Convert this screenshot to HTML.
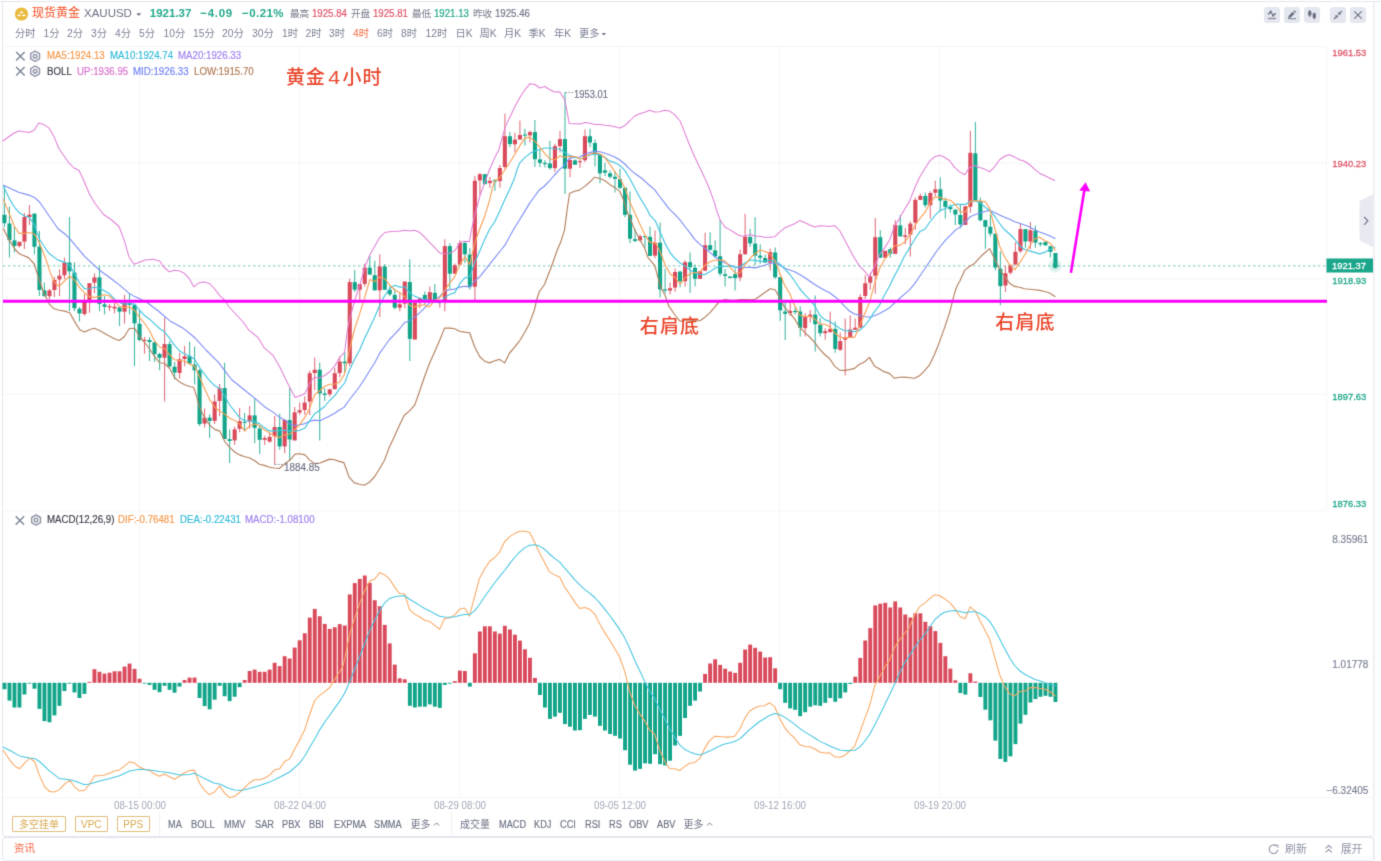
<!DOCTYPE html>
<html lang="zh-CN">
<head>
<meta charset="utf-8">
<title>现货黄金 XAUUSD</title>
<style>
*{box-sizing:border-box;margin:0;padding:0}
html,body{width:1381px;height:861px;overflow:hidden;background:#fff}
body{font-family:"Liberation Sans","Noto Sans CJK SC",sans-serif;color:#7b8194;position:relative}
#w{position:absolute;left:0;top:0;width:1381px;height:861px;overflow:hidden;background:#fff;filter:url(#bl)}
.t{position:absolute;white-space:nowrap;line-height:14px;height:14px}
.box{position:absolute;border:1px solid #e3e5ee;border-radius:4px;background:#fff}
#main{left:2px;top:1px;width:1372px;height:835.5px;border-radius:0 0 4px 4px;border-top:none;border-right-color:#eceef3}
#topl{position:absolute;left:0;top:1px;width:1381px;height:1px;background:#e3e5ee}
#foot{left:2px;top:836.5px;width:1372px;height:24px;border-bottom-color:#eceef3}
#side{position:absolute;left:1374px;top:2px;width:12px;height:859px;border-left:1px solid #f1f2f6}
svg{position:absolute;left:0;top:0}
.r1{top:6.5px;font-size:9.6px;color:#737889}
.r1.n{font-size:10px;transform:scaleX(.965);transform-origin:0 50%;-webkit-text-stroke:.2px}
.r2{top:26.7px;font-size:10.3px;color:#7b8194}
.lg{font-size:10px;transform:scaleX(.97);transform-origin:0 50%;-webkit-text-stroke:.18px}
.ax{font-size:9.4px;right:14.8px;text-align:right;-webkit-text-stroke:.3px}
.bt{top:818px;font-size:10px;color:#6f7486;transform:scaleX(.92);transform-origin:0 50%;-webkit-text-stroke:.2px}
.bt.cj{font-size:10px;transform:none;-webkit-text-stroke:0}
.tm{top:799.2px;font-size:10px;transform:scaleX(.975);color:#a3a7b8;width:80px;text-align:center}
.gb{position:absolute;top:816px;height:16px;border:1px solid #e2bd7c;border-radius:1px;color:#d8a850;font-size:10px;line-height:15px;text-align:center;white-space:nowrap}
.ib{position:absolute;top:7.4px;width:16px;height:16px;border-radius:3px;background:#e4e7ef}
.ax.m{font-size:10px;right:12.6px;-webkit-text-stroke:.15px;color:#7b8194}
.hl{font-size:10px;color:#6b7083;transform:scaleX(.94);transform-origin:0 50%;-webkit-text-stroke:.15px}
.red{color:#e0566b}.grn{color:#22a88b}
.ann{position:absolute;white-space:nowrap;color:#e9452a;font-weight:500;font-size:19px;line-height:22px;height:22px;font-family:"Liberation Sans","Noto Sans CJK SC",sans-serif}
</style>
</head>
<body>
<svg width="0" height="0" style="position:absolute;left:0;top:0"><defs><filter id="bl" x="0" y="0" width="100%" height="100%" color-interpolation-filters="sRGB"><feConvolveMatrix order="3" kernelMatrix="1 6 1 6 36 6 1 6 1" divisor="64" edgeMode="duplicate" preserveAlpha="true"/></filter></defs></svg>
<div id="w">
<div class="box" id="main"></div>
<div id="topl"></div>
<div class="box" id="foot"></div>
<div id="side"></div>
<svg width="1381" height="861" viewBox="0 0 1381 861">
<line x1="139.5" y1="47" x2="139.5" y2="797.5" stroke="#f4f5f8" stroke-width="1"/>
<line x1="299.5" y1="47" x2="299.5" y2="797.5" stroke="#f4f5f8" stroke-width="1"/>
<line x1="459.5" y1="47" x2="459.5" y2="797.5" stroke="#f4f5f8" stroke-width="1"/>
<line x1="619.5" y1="47" x2="619.5" y2="797.5" stroke="#f4f5f8" stroke-width="1"/>
<line x1="779.5" y1="47" x2="779.5" y2="797.5" stroke="#f4f5f8" stroke-width="1"/>
<line x1="939.5" y1="47" x2="939.5" y2="797.5" stroke="#f4f5f8" stroke-width="1"/>
<line x1="3" y1="46.5" x2="1327" y2="46.5" stroke="#f4f5f8" stroke-width="1"/>
<line x1="3" y1="163" x2="1327" y2="163" stroke="#f4f5f8" stroke-width="1"/>
<line x1="3" y1="278.8" x2="1327" y2="278.8" stroke="#f4f5f8" stroke-width="1"/>
<line x1="3" y1="394.4" x2="1327" y2="394.4" stroke="#f4f5f8" stroke-width="1"/>
<line x1="3" y1="511" x2="1327" y2="511" stroke="#f4f5f8" stroke-width="1"/>
<line x1="3" y1="797.5" x2="1327" y2="797.5" stroke="#f4f5f8" stroke-width="1"/>
<line x1="1326.5" y1="46.5" x2="1326.5" y2="510.5" stroke="#f4f5f8" stroke-width="1"/>
<line x1="3" y1="797.5" x2="1373" y2="797.5" stroke="#f4f5f8" stroke-width="1"/>
<line x1="3" y1="265.8" x2="1327" y2="265.8" stroke="#8fd3c3" stroke-width="1.2" stroke-dasharray="2.4 2.6"/>
<g stroke="#12a58a" fill="#12a58a"><path d="M4.4 186.4V227.6" stroke-width="1.1" fill="none" opacity=".78"/><rect x="2.4" y="214.8" width="4.1" height="8.4" stroke="none"/><path d="M9.4 206.5V257.6" stroke-width="1.1" fill="none" opacity=".78"/><rect x="7.4" y="223.5" width="4.1" height="16.7" stroke="none"/><path d="M14.4 226.5V252.6" stroke-width="1.1" fill="none" opacity=".78"/><rect x="12.4" y="240.4" width="4.1" height="5.6" stroke="none"/><path d="M34.4 213V254.3" stroke-width="1.1" fill="none" opacity=".78"/><rect x="32.4" y="213.7" width="4.1" height="33.1" stroke="none"/><path d="M39.4 231V296" stroke-width="1.1" fill="none" opacity=".78"/><rect x="37.4" y="246.8" width="4.1" height="43.2" stroke="none"/><path d="M44.4 282.6V296.2" stroke-width="1.1" fill="none" opacity=".78"/><rect x="42.4" y="290.4" width="4.1" height="5.8" stroke="none"/><path d="M69.5 217V311.1" stroke-width="1.1" fill="none" opacity=".78"/><rect x="67.4" y="262.5" width="4.1" height="8.9" stroke="none"/><path d="M74.5 262.3V311.1" stroke-width="1.1" fill="none" opacity=".78"/><rect x="72.4" y="272.5" width="4.1" height="35.7" stroke="none"/><path d="M79.5 307V321.6" stroke-width="1.1" fill="none" opacity=".78"/><rect x="77.4" y="308.8" width="4.1" height="4.6" stroke="none"/><path d="M99.5 266.4V311.1" stroke-width="1.1" fill="none" opacity=".78"/><rect x="97.4" y="277.4" width="4.1" height="26.5" stroke="none"/><path d="M104.5 296V314.4" stroke-width="1.1" fill="none" opacity=".78"/><rect x="102.5" y="304.4" width="4.1" height="2.3" stroke="none"/><path d="M119.5 306.5V326" stroke-width="1.1" fill="none" opacity=".78"/><rect x="117.5" y="307.6" width="4.1" height="4.1" stroke="none"/><path d="M129.5 293V314.4" stroke-width="1.1" fill="none" opacity=".78"/><rect x="127.5" y="303" width="4.1" height="2" stroke="none"/><path d="M134.5 304V366.2" stroke-width="1.1" fill="none" opacity=".78"/><rect x="132.5" y="305.2" width="4.1" height="18.2" stroke="none"/><path d="M139.5 310.3V341.2" stroke-width="1.1" fill="none" opacity=".78"/><rect x="137.5" y="323.8" width="4.1" height="16.2" stroke="none"/><path d="M149.5 337.2V361" stroke-width="1.1" fill="none" opacity=".78"/><rect x="147.5" y="340" width="4.1" height="2" stroke="none"/><path d="M154.6 341.8V362.1" stroke-width="1.1" fill="none" opacity=".78"/><rect x="152.5" y="342.4" width="4.1" height="11.6" stroke="none"/><path d="M159.6 352.8V370.3" stroke-width="1.1" fill="none" opacity=".78"/><rect x="157.5" y="354" width="4.1" height="3.8" stroke="none"/><path d="M169.6 341.2V367.4" stroke-width="1.1" fill="none" opacity=".78"/><rect x="167.5" y="344.1" width="4.1" height="22.3" stroke="none"/><path d="M174.6 362.1V379.6" stroke-width="1.1" fill="none" opacity=".78"/><rect x="172.5" y="366.8" width="4.1" height="5.8" stroke="none"/><path d="M189.6 341.8V364.5" stroke-width="1.1" fill="none" opacity=".78"/><rect x="187.5" y="356.3" width="4.1" height="7.3" stroke="none"/><path d="M194.6 346.5V384.4" stroke-width="1.1" fill="none" opacity=".78"/><rect x="192.5" y="364.5" width="4.1" height="5.8" stroke="none"/><path d="M199.6 369V425.9" stroke-width="1.1" fill="none" opacity=".78"/><rect x="197.5" y="370.3" width="4.1" height="53.8" stroke="none"/><path d="M209.6 414.3V438.1" stroke-width="1.1" fill="none" opacity=".78"/><rect x="207.6" y="417.7" width="4.1" height="3.2" stroke="none"/><path d="M224.6 362.7V439" stroke-width="1.1" fill="none" opacity=".78"/><rect x="222.6" y="388.1" width="4.1" height="50.9" stroke="none"/><path d="M229.6 429.4V463" stroke-width="1.1" fill="none" opacity=".78"/><rect x="227.6" y="439.2" width="4.1" height="1.8" stroke="none"/><path d="M244.6 413.1V431.1" stroke-width="1.1" fill="none" opacity=".78"/><rect x="242.6" y="421.8" width="4.1" height="1" stroke="none"/><path d="M254.7 398.6V443.3" stroke-width="1.1" fill="none" opacity=".78"/><rect x="252.6" y="415.4" width="4.1" height="12.5" stroke="none"/><path d="M259.7 425.9V454.1" stroke-width="1.1" fill="none" opacity=".78"/><rect x="257.6" y="428.5" width="4.1" height="11.3" stroke="none"/><path d="M279.7 413.7V449.7" stroke-width="1.1" fill="none" opacity=".78"/><rect x="277.6" y="427" width="4.1" height="19.4" stroke="none"/><path d="M289.7 388.1V460.1" stroke-width="1.1" fill="none" opacity=".78"/><rect x="287.6" y="420.1" width="4.1" height="19.4" stroke="none"/><path d="M319.7 362.7V440.5" stroke-width="1.1" fill="none" opacity=".78"/><rect x="317.7" y="369.7" width="4.1" height="23.8" stroke="none"/><path d="M324.7 388.3V401" stroke-width="1.1" fill="none" opacity=".78"/><rect x="322.7" y="393.5" width="4.1" height="1.4" stroke="none"/><path d="M344.7 352.3V372.6" stroke-width="1.1" fill="none" opacity=".78"/><rect x="342.7" y="361.6" width="4.1" height="1.7" stroke="none"/><path d="M354.7 270V292" stroke-width="1.1" fill="none" opacity=".78"/><rect x="352.7" y="282.1" width="4.1" height="7.6" stroke="none"/><path d="M369.8 256V274.6" stroke-width="1.1" fill="none" opacity=".78"/><rect x="367.7" y="267.6" width="4.1" height="7" stroke="none"/><path d="M374.8 260.7V290.8" stroke-width="1.1" fill="none" opacity=".78"/><rect x="372.7" y="275.2" width="4.1" height="15.1" stroke="none"/><path d="M384.8 264.1V290.3" stroke-width="1.1" fill="none" opacity=".78"/><rect x="382.7" y="266.5" width="4.1" height="23.2" stroke="none"/><path d="M389.8 286.2V296.1" stroke-width="1.1" fill="none" opacity=".78"/><rect x="387.7" y="289.7" width="4.1" height="4.6" stroke="none"/><path d="M394.8 288.5V309.4" stroke-width="1.1" fill="none" opacity=".78"/><rect x="392.7" y="294.9" width="4.1" height="12.8" stroke="none"/><path d="M409.8 259.3V361" stroke-width="1.1" fill="none" opacity=".78"/><rect x="407.8" y="282.1" width="4.1" height="56.8" stroke="none"/><path d="M424.8 291.4V304.8" stroke-width="1.1" fill="none" opacity=".78"/><rect x="422.8" y="294.9" width="4.1" height="5.1" stroke="none"/><path d="M434.8 283.9V300" stroke-width="1.1" fill="none" opacity=".78"/><rect x="432.8" y="292.9" width="4.1" height="7.1" stroke="none"/><path d="M449.8 243.2V289.1" stroke-width="1.1" fill="none" opacity=".78"/><rect x="447.8" y="246.1" width="4.1" height="27.6" stroke="none"/><path d="M464.9 241.5V263" stroke-width="1.1" fill="none" opacity=".78"/><rect x="462.8" y="243" width="4.1" height="11.3" stroke="none"/><path d="M469.9 247.9V289.7" stroke-width="1.1" fill="none" opacity=".78"/><rect x="467.8" y="254.6" width="4.1" height="32.2" stroke="none"/><path d="M484.9 174.2V184.8" stroke-width="1.1" fill="none" opacity=".78"/><rect x="482.8" y="174.2" width="4.1" height="9.7" stroke="none"/><path d="M494.9 179V190.7" stroke-width="1.1" fill="none" opacity=".78"/><rect x="492.8" y="180.4" width="4.1" height="1.2" stroke="none"/><path d="M509.9 132.1V147.2" stroke-width="1.1" fill="none" opacity=".78"/><rect x="507.9" y="136.2" width="4.1" height="7.9" stroke="none"/><path d="M524.9 128.7V145.5" stroke-width="1.1" fill="none" opacity=".78"/><rect x="522.9" y="134.5" width="4.1" height="1.1" stroke="none"/><path d="M534.9 120V167" stroke-width="1.1" fill="none" opacity=".78"/><rect x="532.9" y="132.1" width="4.1" height="27.1" stroke="none"/><path d="M539.9 150.1V167" stroke-width="1.1" fill="none" opacity=".78"/><rect x="537.9" y="159.4" width="4.1" height="3.5" stroke="none"/><path d="M544.9 160V167.6" stroke-width="1.1" fill="none" opacity=".78"/><rect x="542.9" y="162.9" width="4.1" height="1.2" stroke="none"/><path d="M549.9 140.8V169.8" stroke-width="1.1" fill="none" opacity=".78"/><rect x="547.9" y="163.5" width="4.1" height="4.6" stroke="none"/><path d="M565 92.1V193.9" stroke-width="1.1" fill="none" opacity=".78"/><rect x="562.9" y="139.1" width="4.1" height="29.6" stroke="none"/><path d="M575 159.4V164.7" stroke-width="1.1" fill="none" opacity=".78"/><rect x="572.9" y="160.4" width="4.1" height="4.3" stroke="none"/><path d="M590 128.7V147.2" stroke-width="1.1" fill="none" opacity=".78"/><rect x="587.9" y="136.2" width="4.1" height="6.4" stroke="none"/><path d="M595 139.6V166.3" stroke-width="1.1" fill="none" opacity=".78"/><rect x="592.9" y="143" width="4.1" height="11.2" stroke="none"/><path d="M600 154.2V183.2" stroke-width="1.1" fill="none" opacity=".78"/><rect x="597.9" y="154.5" width="4.1" height="18.8" stroke="none"/><path d="M605 162.8V176.2" stroke-width="1.1" fill="none" opacity=".78"/><rect x="603" y="170.4" width="4.1" height="2.3" stroke="none"/><path d="M610 170.4V178.5" stroke-width="1.1" fill="none" opacity=".78"/><rect x="608" y="173.3" width="4.1" height="3.5" stroke="none"/><path d="M615 171V192.5" stroke-width="1.1" fill="none" opacity=".78"/><rect x="613" y="176.8" width="4.1" height="2" stroke="none"/><path d="M620 168.7V189" stroke-width="1.1" fill="none" opacity=".78"/><rect x="618" y="179.1" width="4.1" height="8.7" stroke="none"/><path d="M625 187.7V217.2" stroke-width="1.1" fill="none" opacity=".78"/><rect x="623" y="187.7" width="4.1" height="27.1" stroke="none"/><path d="M630 191.6V243.3" stroke-width="1.1" fill="none" opacity=".78"/><rect x="628" y="214.8" width="4.1" height="23.9" stroke="none"/><path d="M635 228.8V242.1" stroke-width="1.1" fill="none" opacity=".78"/><rect x="633" y="239.2" width="4.1" height="1.8" stroke="none"/><path d="M645 235.7V247.4" stroke-width="1.1" fill="none" opacity=".78"/><rect x="643" y="236" width="4.1" height="1" stroke="none"/><path d="M650 226.5V256.1" stroke-width="1.1" fill="none" opacity=".78"/><rect x="648" y="236.9" width="4.1" height="19" stroke="none"/><path d="M660.1 222.4V297.5" stroke-width="1.1" fill="none" opacity=".78"/><rect x="658" y="242.7" width="4.1" height="46.7" stroke="none"/><path d="M665.1 268.6V293.4" stroke-width="1.1" fill="none" opacity=".78"/><rect x="663" y="289.4" width="4.1" height="1.1" stroke="none"/><path d="M680.1 270.8V287.6" stroke-width="1.1" fill="none" opacity=".78"/><rect x="678" y="271.6" width="4.1" height="9.6" stroke="none"/><path d="M690.1 252.5V292.8" stroke-width="1.1" fill="none" opacity=".78"/><rect x="688" y="262.2" width="4.1" height="5" stroke="none"/><path d="M695.1 264.4V286.5" stroke-width="1.1" fill="none" opacity=".78"/><rect x="693" y="267.8" width="4.1" height="11" stroke="none"/><path d="M710.1 232.3V250.8" stroke-width="1.1" fill="none" opacity=".78"/><rect x="708.1" y="245.2" width="4.1" height="4.6" stroke="none"/><path d="M715.1 240.4V258" stroke-width="1.1" fill="none" opacity=".78"/><rect x="713.1" y="250.4" width="4.1" height="5.8" stroke="none"/><path d="M720.1 220.1V276.2" stroke-width="1.1" fill="none" opacity=".78"/><rect x="718.1" y="256.2" width="4.1" height="17.4" stroke="none"/><path d="M725.1 268.9V286.5" stroke-width="1.1" fill="none" opacity=".78"/><rect x="723.1" y="274.2" width="4.1" height="1.7" stroke="none"/><path d="M730.1 276.5V278.1" stroke-width="1.1" fill="none" opacity=".78"/><rect x="728.1" y="276.5" width="4.1" height="1.6" stroke="none"/><path d="M735.1 268.4V290.5" stroke-width="1.1" fill="none" opacity=".78"/><rect x="733.1" y="274.2" width="4.1" height="3.9" stroke="none"/><path d="M750.1 228.8V246.8" stroke-width="1.1" fill="none" opacity=".78"/><rect x="748.1" y="236.9" width="4.1" height="6.5" stroke="none"/><path d="M755.1 217.2V265" stroke-width="1.1" fill="none" opacity=".78"/><rect x="753.1" y="243.6" width="4.1" height="12" stroke="none"/><path d="M760.2 244.3V263.8" stroke-width="1.1" fill="none" opacity=".78"/><rect x="758.1" y="255.6" width="4.1" height="2.1" stroke="none"/><path d="M765.2 254.5V262.6" stroke-width="1.1" fill="none" opacity=".78"/><rect x="763.1" y="258" width="4.1" height="4.6" stroke="none"/><path d="M775.2 247.5V278.9" stroke-width="1.1" fill="none" opacity=".78"/><rect x="773.1" y="252.5" width="4.1" height="24.7" stroke="none"/><path d="M780.2 277V320.7" stroke-width="1.1" fill="none" opacity=".78"/><rect x="778.1" y="277.2" width="4.1" height="33.1" stroke="none"/><path d="M785.2 302.8V339.9" stroke-width="1.1" fill="none" opacity=".78"/><rect x="783.1" y="311.5" width="4.1" height="2.3" stroke="none"/><path d="M795.2 306.8V314.4" stroke-width="1.1" fill="none" opacity=".78"/><rect x="793.1" y="310.9" width="4.1" height="1.2" stroke="none"/><path d="M800.2 306.3V336.5" stroke-width="1.1" fill="none" opacity=".78"/><rect x="798.1" y="311.5" width="4.1" height="16.2" stroke="none"/><path d="M815.2 295.6V351.6" stroke-width="1.1" fill="none" opacity=".78"/><rect x="813.2" y="314.6" width="4.1" height="9.7" stroke="none"/><path d="M820.2 317.9V336.5" stroke-width="1.1" fill="none" opacity=".78"/><rect x="818.2" y="324.8" width="4.1" height="8.4" stroke="none"/><path d="M835.2 321.4V352.7" stroke-width="1.1" fill="none" opacity=".78"/><rect x="833.2" y="328.9" width="4.1" height="20.1" stroke="none"/><path d="M880.3 229.9V257.7" stroke-width="1.1" fill="none" opacity=".78"/><rect x="878.2" y="237.2" width="4.1" height="20.5" stroke="none"/><path d="M890.3 247.6V257.7" stroke-width="1.1" fill="none" opacity=".78"/><rect x="888.2" y="249.3" width="4.1" height="4.4" stroke="none"/><path d="M900.3 215V236.5" stroke-width="1.1" fill="none" opacity=".78"/><rect x="898.2" y="225.4" width="4.1" height="11" stroke="none"/><path d="M925.3 192.4V207.5" stroke-width="1.1" fill="none" opacity=".78"/><rect x="923.3" y="195.9" width="4.1" height="9.3" stroke="none"/><path d="M940.3 177.3V211.6" stroke-width="1.1" fill="none" opacity=".78"/><rect x="938.3" y="189.3" width="4.1" height="11.2" stroke="none"/><path d="M945.3 197.6V218.5" stroke-width="1.1" fill="none" opacity=".78"/><rect x="943.3" y="200.9" width="4.1" height="6" stroke="none"/><path d="M950.3 204.6V212.7" stroke-width="1.1" fill="none" opacity=".78"/><rect x="948.3" y="206.9" width="4.1" height="2.3" stroke="none"/><path d="M955.3 208.7V224.9" stroke-width="1.1" fill="none" opacity=".78"/><rect x="953.3" y="209.8" width="4.1" height="4.7" stroke="none"/><path d="M960.4 204.6V228.4" stroke-width="1.1" fill="none" opacity=".78"/><rect x="958.3" y="215" width="4.1" height="9.4" stroke="none"/><path d="M975.4 122.1V200.5" stroke-width="1.1" fill="none" opacity=".78"/><rect x="973.3" y="153.3" width="4.1" height="47.2" stroke="none"/><path d="M980.4 197.6V221.5" stroke-width="1.1" fill="none" opacity=".78"/><rect x="978.3" y="201.1" width="4.1" height="19.1" stroke="none"/><path d="M985.4 219.7V248.8" stroke-width="1.1" fill="none" opacity=".78"/><rect x="983.3" y="220.2" width="4.1" height="6.6" stroke="none"/><path d="M990.4 214.8V236.6" stroke-width="1.1" fill="none" opacity=".78"/><rect x="988.3" y="226.8" width="4.1" height="6.9" stroke="none"/><path d="M995.4 233.7V270.4" stroke-width="1.1" fill="none" opacity=".78"/><rect x="993.3" y="233.7" width="4.1" height="33.8" stroke="none"/><path d="M1000.4 251.2V305.2" stroke-width="1.1" fill="none" opacity=".78"/><rect x="998.3" y="268.7" width="4.1" height="17.4" stroke="none"/><path d="M1025.4 229.1V247.7" stroke-width="1.1" fill="none" opacity=".78"/><rect x="1023.4" y="229.1" width="4.1" height="12.4" stroke="none"/><path d="M1035.4 225.6V247.8" stroke-width="1.1" fill="none" opacity=".78"/><rect x="1033.4" y="230.7" width="4.1" height="11.9" stroke="none"/><path d="M1040.4 241.9V246.6" stroke-width="1.1" fill="none" opacity=".78"/><rect x="1038.4" y="243.1" width="4.1" height="1.2" stroke="none"/><path d="M1045.4 241.9V245.4" stroke-width="1.1" fill="none" opacity=".78"/><rect x="1043.4" y="241.9" width="4.1" height="3.5" stroke="none"/><path d="M1050.4 246.2V257.6" stroke-width="1.1" fill="none" opacity=".78"/><rect x="1048.4" y="246.2" width="4.1" height="5.6" stroke="none"/><path d="M1055.5 253V266.5" stroke-width="1.1" fill="none" opacity=".78"/><rect x="1053.4" y="253" width="4.1" height="13.5" stroke="none"/></g>
<g stroke="#d94b5c" fill="#d94b5c"><path d="M19.4 241.8V247.4" stroke-width="1.1" fill="none" opacity=".78"/><rect x="17.4" y="241.8" width="4.1" height="4.2" stroke="none"/><path d="M24.4 213V249" stroke-width="1.1" fill="none" opacity=".78"/><rect x="22.4" y="217" width="4.1" height="24.6" stroke="none"/><path d="M29.4 205V225" stroke-width="1.1" fill="none" opacity=".78"/><rect x="27.4" y="214.6" width="4.1" height="2.4" stroke="none"/><path d="M49.4 289V300" stroke-width="1.1" fill="none" opacity=".78"/><rect x="47.4" y="290.4" width="4.1" height="5.8" stroke="none"/><path d="M54.4 276.8V297" stroke-width="1.1" fill="none" opacity=".78"/><rect x="52.4" y="280" width="4.1" height="10" stroke="none"/><path d="M59.5 269.3V296.2" stroke-width="1.1" fill="none" opacity=".78"/><rect x="57.4" y="275.7" width="4.1" height="3.8" stroke="none"/><path d="M64.5 257.6V279.2" stroke-width="1.1" fill="none" opacity=".78"/><rect x="62.4" y="262.5" width="4.1" height="12.8" stroke="none"/><path d="M84.5 293.7V315.7" stroke-width="1.1" fill="none" opacity=".78"/><rect x="82.4" y="300.6" width="4.1" height="13.4" stroke="none"/><path d="M89.5 283.2V312.8" stroke-width="1.1" fill="none" opacity=".78"/><rect x="87.4" y="283.2" width="4.1" height="16.8" stroke="none"/><path d="M94.5 273.4V293.1" stroke-width="1.1" fill="none" opacity=".78"/><rect x="92.4" y="277.4" width="4.1" height="5.2" stroke="none"/><path d="M109.5 304V311" stroke-width="1.1" fill="none" opacity=".78"/><rect x="107.5" y="306.2" width="4.1" height="1.2" stroke="none"/><path d="M114.5 303V313.4" stroke-width="1.1" fill="none" opacity=".78"/><rect x="112.5" y="306.7" width="4.1" height="1.8" stroke="none"/><path d="M124.5 294.8V323.6" stroke-width="1.1" fill="none" opacity=".78"/><rect x="122.5" y="302.7" width="4.1" height="9" stroke="none"/><path d="M144.5 337V353.7" stroke-width="1.1" fill="none" opacity=".78"/><rect x="142.5" y="339.8" width="4.1" height="1.1" stroke="none"/><path d="M164.6 317.4V401.5" stroke-width="1.1" fill="none" opacity=".78"/><rect x="162.5" y="344.1" width="4.1" height="13.6" stroke="none"/><path d="M179.6 352.8V378.4" stroke-width="1.1" fill="none" opacity=".78"/><rect x="177.5" y="359.2" width="4.1" height="13.7" stroke="none"/><path d="M184.6 345.9V366.2" stroke-width="1.1" fill="none" opacity=".78"/><rect x="182.5" y="356.3" width="4.1" height="2.7" stroke="none"/><path d="M204.6 408.5V427.6" stroke-width="1.1" fill="none" opacity=".78"/><rect x="202.5" y="417.7" width="4.1" height="5.9" stroke="none"/><path d="M214.6 394.5V424.1" stroke-width="1.1" fill="none" opacity=".78"/><rect x="212.6" y="401.5" width="4.1" height="19.4" stroke="none"/><path d="M219.6 384.1V416" stroke-width="1.1" fill="none" opacity=".78"/><rect x="217.6" y="388.1" width="4.1" height="12.8" stroke="none"/><path d="M234.6 426.5V445" stroke-width="1.1" fill="none" opacity=".78"/><rect x="232.6" y="429.4" width="4.1" height="11" stroke="none"/><path d="M239.6 407.9V432.3" stroke-width="1.1" fill="none" opacity=".78"/><rect x="237.6" y="421.2" width="4.1" height="7.6" stroke="none"/><path d="M249.6 406.1V428.8" stroke-width="1.1" fill="none" opacity=".78"/><rect x="247.6" y="415.4" width="4.1" height="6.2" stroke="none"/><path d="M264.7 435.7V445" stroke-width="1.1" fill="none" opacity=".78"/><rect x="262.6" y="438.1" width="4.1" height="1.7" stroke="none"/><path d="M269.7 432.8V442.7" stroke-width="1.1" fill="none" opacity=".78"/><rect x="267.6" y="436.9" width="4.1" height="4.7" stroke="none"/><path d="M274.7 416V464.8" stroke-width="1.1" fill="none" opacity=".78"/><rect x="272.6" y="427" width="4.1" height="9.3" stroke="none"/><path d="M284.7 418.9V453.2" stroke-width="1.1" fill="none" opacity=".78"/><rect x="282.6" y="420.1" width="4.1" height="26.3" stroke="none"/><path d="M294.7 407V440.4" stroke-width="1.1" fill="none" opacity=".78"/><rect x="292.6" y="412.3" width="4.1" height="28.1" stroke="none"/><path d="M299.7 402.6V414.8" stroke-width="1.1" fill="none" opacity=".78"/><rect x="297.6" y="410.2" width="4.1" height="2.3" stroke="none"/><path d="M304.7 396.3V414.8" stroke-width="1.1" fill="none" opacity=".78"/><rect x="302.6" y="402.6" width="4.1" height="7.4" stroke="none"/><path d="M309.7 370.8V415" stroke-width="1.1" fill="none" opacity=".78"/><rect x="307.7" y="373.2" width="4.1" height="28.4" stroke="none"/><path d="M314.7 357.5V390" stroke-width="1.1" fill="none" opacity=".78"/><rect x="312.7" y="369.7" width="4.1" height="3.3" stroke="none"/><path d="M329.7 388.9V396.4" stroke-width="1.1" fill="none" opacity=".78"/><rect x="327.7" y="389.4" width="4.1" height="4.8" stroke="none"/><path d="M334.7 368V389.2" stroke-width="1.1" fill="none" opacity=".78"/><rect x="332.7" y="373.2" width="4.1" height="16" stroke="none"/><path d="M339.7 356.3V377.2" stroke-width="1.1" fill="none" opacity=".78"/><rect x="337.7" y="361.6" width="4.1" height="11.4" stroke="none"/><path d="M349.7 278.7V366.2" stroke-width="1.1" fill="none" opacity=".78"/><rect x="347.7" y="282.1" width="4.1" height="81.2" stroke="none"/><path d="M359.8 284.1V300" stroke-width="1.1" fill="none" opacity=".78"/><rect x="357.7" y="284.1" width="4.1" height="5.6" stroke="none"/><path d="M364.8 263.6V286.8" stroke-width="1.1" fill="none" opacity=".78"/><rect x="362.7" y="267.6" width="4.1" height="16.3" stroke="none"/><path d="M379.8 254.3V317" stroke-width="1.1" fill="none" opacity=".78"/><rect x="377.7" y="266.5" width="4.1" height="23.8" stroke="none"/><path d="M399.8 293.2V311.2" stroke-width="1.1" fill="none" opacity=".78"/><rect x="397.7" y="304.2" width="4.1" height="3.5" stroke="none"/><path d="M404.8 281V308.3" stroke-width="1.1" fill="none" opacity=".78"/><rect x="402.7" y="281.6" width="4.1" height="22" stroke="none"/><path d="M414.8 302.5V339.5" stroke-width="1.1" fill="none" opacity=".78"/><rect x="412.8" y="302.5" width="4.1" height="37" stroke="none"/><path d="M419.8 297.8V308.3" stroke-width="1.1" fill="none" opacity=".78"/><rect x="417.8" y="298.4" width="4.1" height="1.6" stroke="none"/><path d="M429.8 286.4V300" stroke-width="1.1" fill="none" opacity=".78"/><rect x="427.8" y="292.2" width="4.1" height="7.8" stroke="none"/><path d="M439.8 300V307.7" stroke-width="1.1" fill="none" opacity=".78"/><rect x="437.8" y="300.5" width="4.1" height="1" stroke="none"/><path d="M444.8 239.2V311.2" stroke-width="1.1" fill="none" opacity=".78"/><rect x="442.8" y="246.1" width="4.1" height="53.9" stroke="none"/><path d="M454.8 263.6V273.7" stroke-width="1.1" fill="none" opacity=".78"/><rect x="452.8" y="265.3" width="4.1" height="8.4" stroke="none"/><path d="M459.9 240.3V264.7" stroke-width="1.1" fill="none" opacity=".78"/><rect x="457.8" y="243" width="4.1" height="21.7" stroke="none"/><path d="M474.9 176.1V300" stroke-width="1.1" fill="none" opacity=".78"/><rect x="472.8" y="180.8" width="4.1" height="106" stroke="none"/><path d="M479.9 173V194.7" stroke-width="1.1" fill="none" opacity=".78"/><rect x="477.8" y="174.2" width="4.1" height="6.2" stroke="none"/><path d="M489.9 176.9V187.7" stroke-width="1.1" fill="none" opacity=".78"/><rect x="487.8" y="180.8" width="4.1" height="2.3" stroke="none"/><path d="M499.9 165.1V187.7" stroke-width="1.1" fill="none" opacity=".78"/><rect x="497.8" y="168" width="4.1" height="13.1" stroke="none"/><path d="M504.9 113.6V168.7" stroke-width="1.1" fill="none" opacity=".78"/><rect x="502.8" y="136.2" width="4.1" height="30.8" stroke="none"/><path d="M514.9 132.7V152.5" stroke-width="1.1" fill="none" opacity=".78"/><rect x="512.9" y="139.7" width="4.1" height="4.6" stroke="none"/><path d="M519.9 120.5V139.5" stroke-width="1.1" fill="none" opacity=".78"/><rect x="517.9" y="135" width="4.1" height="4.5" stroke="none"/><path d="M529.9 130.4V142.6" stroke-width="1.1" fill="none" opacity=".78"/><rect x="527.9" y="132.1" width="4.1" height="3.2" stroke="none"/><path d="M554.9 143.7V172" stroke-width="1.1" fill="none" opacity=".78"/><rect x="552.9" y="146.1" width="4.1" height="22" stroke="none"/><path d="M560 131V152.5" stroke-width="1.1" fill="none" opacity=".78"/><rect x="557.9" y="139.1" width="4.1" height="7" stroke="none"/><path d="M570 157.1V177.3" stroke-width="1.1" fill="none" opacity=".78"/><rect x="567.9" y="160" width="4.1" height="8.7" stroke="none"/><path d="M580 160V168.1" stroke-width="1.1" fill="none" opacity=".78"/><rect x="577.9" y="161.2" width="4.1" height="1.1" stroke="none"/><path d="M585 129.4V162.3" stroke-width="1.1" fill="none" opacity=".78"/><rect x="582.9" y="136.2" width="4.1" height="24" stroke="none"/><path d="M640 234.6V241.6" stroke-width="1.1" fill="none" opacity=".78"/><rect x="638" y="236.3" width="4.1" height="4.1" stroke="none"/><path d="M655 230.5V258.2" stroke-width="1.1" fill="none" opacity=".78"/><rect x="653" y="242.7" width="4.1" height="12.9" stroke="none"/><path d="M670.1 282.4V294.6" stroke-width="1.1" fill="none" opacity=".78"/><rect x="668" y="288.2" width="4.1" height="2.3" stroke="none"/><path d="M675.1 268.6V291.7" stroke-width="1.1" fill="none" opacity=".78"/><rect x="673" y="272" width="4.1" height="15.6" stroke="none"/><path d="M685.1 260.2V286.5" stroke-width="1.1" fill="none" opacity=".78"/><rect x="683" y="262.2" width="4.1" height="19" stroke="none"/><path d="M700.1 271.3V278.8" stroke-width="1.1" fill="none" opacity=".78"/><rect x="698" y="271.3" width="4.1" height="7.5" stroke="none"/><path d="M705.1 232.8V270.7" stroke-width="1.1" fill="none" opacity=".78"/><rect x="703" y="245.2" width="4.1" height="25.5" stroke="none"/><path d="M740.1 249.5V281.2" stroke-width="1.1" fill="none" opacity=".78"/><rect x="738.1" y="254.2" width="4.1" height="23.4" stroke="none"/><path d="M745.1 213.7V255" stroke-width="1.1" fill="none" opacity=".78"/><rect x="743.1" y="236.7" width="4.1" height="17.5" stroke="none"/><path d="M770.2 248.4V270.4" stroke-width="1.1" fill="none" opacity=".78"/><rect x="768.1" y="252.2" width="4.1" height="10.4" stroke="none"/><path d="M790.2 301V316.1" stroke-width="1.1" fill="none" opacity=".78"/><rect x="788.1" y="310.9" width="4.1" height="2.3" stroke="none"/><path d="M805.2 313.2V336.5" stroke-width="1.1" fill="none" opacity=".78"/><rect x="803.1" y="316.7" width="4.1" height="11.4" stroke="none"/><path d="M810.2 309.7V322.5" stroke-width="1.1" fill="none" opacity=".78"/><rect x="808.2" y="314.6" width="4.1" height="1.9" stroke="none"/><path d="M825.2 328.3V339.7" stroke-width="1.1" fill="none" opacity=".78"/><rect x="823.2" y="331.2" width="4.1" height="2" stroke="none"/><path d="M830.2 311.5V333" stroke-width="1.1" fill="none" opacity=".78"/><rect x="828.2" y="328.9" width="4.1" height="3.1" stroke="none"/><path d="M840.2 332.4V351" stroke-width="1.1" fill="none" opacity=".78"/><rect x="838.2" y="341.1" width="4.1" height="8.7" stroke="none"/><path d="M845.2 318.5V375.4" stroke-width="1.1" fill="none" opacity=".78"/><rect x="843.2" y="337.9" width="4.1" height="1.8" stroke="none"/><path d="M850.2 315.6V337" stroke-width="1.1" fill="none" opacity=".78"/><rect x="848.2" y="329.5" width="4.1" height="7.5" stroke="none"/><path d="M855.2 318.5V329.7" stroke-width="1.1" fill="none" opacity=".78"/><rect x="853.2" y="327.7" width="4.1" height="2" stroke="none"/><path d="M860.3 294V327.7" stroke-width="1.1" fill="none" opacity=".78"/><rect x="858.2" y="297" width="4.1" height="30.7" stroke="none"/><path d="M865.3 275.2V299" stroke-width="1.1" fill="none" opacity=".78"/><rect x="863.2" y="283.3" width="4.1" height="12.7" stroke="none"/><path d="M870.3 272.8V289.7" stroke-width="1.1" fill="none" opacity=".78"/><rect x="868.2" y="276.3" width="4.1" height="6.4" stroke="none"/><path d="M875.3 218V293.8" stroke-width="1.1" fill="none" opacity=".78"/><rect x="873.2" y="237.2" width="4.1" height="38.5" stroke="none"/><path d="M885.3 250.8V257.7" stroke-width="1.1" fill="none" opacity=".78"/><rect x="883.2" y="250.8" width="4.1" height="6.9" stroke="none"/><path d="M895.3 220.3V253.9" stroke-width="1.1" fill="none" opacity=".78"/><rect x="893.2" y="224.8" width="4.1" height="29.1" stroke="none"/><path d="M905.3 227.9V244.2" stroke-width="1.1" fill="none" opacity=".78"/><rect x="903.2" y="235.3" width="4.1" height="1.5" stroke="none"/><path d="M910.3 221.4V256.6" stroke-width="1.1" fill="none" opacity=".78"/><rect x="908.3" y="223.6" width="4.1" height="11" stroke="none"/><path d="M915.3 197.6V230" stroke-width="1.1" fill="none" opacity=".78"/><rect x="913.3" y="199.9" width="4.1" height="22.7" stroke="none"/><path d="M920.3 193.6V199.9" stroke-width="1.1" fill="none" opacity=".78"/><rect x="918.3" y="195.9" width="4.1" height="4" stroke="none"/><path d="M930.3 191.2V218.5" stroke-width="1.1" fill="none" opacity=".78"/><rect x="928.3" y="193" width="4.1" height="12.2" stroke="none"/><path d="M935.3 180.8V196.5" stroke-width="1.1" fill="none" opacity=".78"/><rect x="933.3" y="189.3" width="4.1" height="3.4" stroke="none"/><path d="M965.4 206.3V224.9" stroke-width="1.1" fill="none" opacity=".78"/><rect x="963.3" y="206.3" width="4.1" height="18.6" stroke="none"/><path d="M970.4 130.8V212.8" stroke-width="1.1" fill="none" opacity=".78"/><rect x="968.3" y="152.8" width="4.1" height="53.9" stroke="none"/><path d="M1005.4 265.7V291.9" stroke-width="1.1" fill="none" opacity=".78"/><rect x="1003.4" y="273.3" width="4.1" height="12.2" stroke="none"/><path d="M1010.4 264.6V274.5" stroke-width="1.1" fill="none" opacity=".78"/><rect x="1008.4" y="265.2" width="4.1" height="7.5" stroke="none"/><path d="M1015.4 242.3V264.6" stroke-width="1.1" fill="none" opacity=".78"/><rect x="1013.4" y="251.8" width="4.1" height="12.8" stroke="none"/><path d="M1020.4 224V253" stroke-width="1.1" fill="none" opacity=".78"/><rect x="1018.4" y="229.1" width="4.1" height="22.1" stroke="none"/><path d="M1030.4 222.1V248.9" stroke-width="1.1" fill="none" opacity=".78"/><rect x="1028.4" y="230.2" width="4.1" height="11.3" stroke="none"/></g>
<path d="M3.0 141.0 L14.0 133.0 L19.0 131.0 L29.0 132.6 L34.0 130.5 L38.7 123.0 L43.5 124.4 L48.8 127.9 L54.0 136.6 L59.0 148.8 L68.8 162.7 L74.0 168.0 L79.0 170.5 L83.6 180.0 L89.4 194.0 L95.2 203.8 L103.4 214.3 L111.5 220.0 L119.0 226.5 L124.3 240.4 L128.9 256.7 L134.1 264.2 L145.2 260.0 L153.3 259.3 L160.0 261.3 L163.2 266.5 L169.0 271.7 L174.8 270.3 L179.5 270.9 L184.1 273.2 L189.4 278.7 L193.7 286.8 L199.2 282.7 L203.9 282.1 L209.5 283.6 L214.3 288.5 L220.1 296.1 L224.5 300.0 L229.2 307.0 L236.1 314.5 L243.1 322.0 L248.9 330.2 L258.2 337.7 L264.0 347.6 L273.3 355.7 L280.0 367.4 L286.0 380.0 L290.1 388.1 L295.0 397.4 L300.0 395.7 L305.0 393.4 L309.8 383.5 L312.1 380.0 L314.6 377.2 L319.6 378.0 L324.6 375.5 L329.6 372.0 L334.6 366.2 L339.6 357.5 L344.6 352.3 L347.4 330.2 L349.6 319.7 L352.0 310.5 L354.9 300.0 L359.8 285.0 L365.1 266.5 L369.9 254.8 L374.8 246.1 L379.8 237.4 L384.8 232.5 L389.7 231.8 L394.9 231.3 L399.8 231.3 L404.8 230.2 L409.5 231.0 L414.5 230.2 L419.4 232.2 L424.5 236.8 L429.3 242.1 L435.0 247.9 L439.9 253.1 L445.1 253.9 L450.1 253.1 L454.7 250.8 L460.0 242.6 L464.9 241.3 L469.4 241.5 L471.4 230.1 L474.8 215.0 L479.7 196.5 L484.7 182.5 L489.7 169.2 L494.6 158.1 L498.7 150.0 L505.3 126.9 L510.2 116.5 L515.2 106.0 L520.0 97.3 L525.0 89.7 L530.0 83.7 L534.9 84.5 L539.9 88.0 L544.8 86.5 L549.7 89.7 L554.9 92.1 L559.7 91.8 L564.8 99.6 L566.9 110.7 L569.2 123.4 L574.7 123.7 L580.2 124.0 L585.2 122.6 L590.1 123.3 L595.0 124.6 L600.0 124.5 L605.0 125.3 L610.0 125.7 L614.8 126.8 L619.8 128.0 L624.8 125.7 L629.7 121.0 L634.6 116.0 L639.6 113.7 L644.6 112.3 L649.6 110.2 L654.6 112.1 L659.6 111.7 L664.6 110.2 L669.5 110.9 L674.5 114.6 L680.1 121.0 L684.5 132.1 L689.5 144.8 L694.5 156.5 L699.5 166.9 L704.5 177.4 L709.5 189.0 L714.5 202.9 L716.5 210.0 L719.9 219.5 L724.9 227.0 L730.1 229.9 L735.3 233.2 L740.3 236.0 L745.2 236.0 L750.4 234.6 L755.3 236.3 L760.0 236.3 L764.6 237.2 L769.6 237.2 L774.6 236.8 L779.6 232.2 L784.6 228.1 L789.6 225.8 L794.6 223.7 L799.6 220.6 L804.6 222.6 L809.6 224.9 L814.6 227.0 L819.6 225.8 L824.6 226.0 L829.6 226.4 L834.6 225.6 L839.6 230.5 L844.6 239.7 L849.5 249.0 L854.5 258.3 L859.5 265.9 L864.5 271.1 L869.2 276.9 L874.5 266.5 L879.5 254.8 L884.0 248.9 L889.5 240.2 L894.5 226.2 L899.1 219.1 L904.6 209.2 L909.6 201.1 L914.6 188.3 L919.6 177.3 L924.6 169.0 L929.6 161.2 L934.6 156.8 L939.6 155.3 L944.6 157.3 L949.6 160.7 L954.6 167.4 L959.6 171.9 L964.8 174.8 L969.6 167.4 L974.6 165.5 L979.6 167.4 L984.6 169.1 L989.6 171.8 L994.6 166.8 L999.6 159.8 L1004.6 156.3 L1009.5 154.8 L1014.5 156.9 L1019.5 159.8 L1024.5 161.2 L1029.5 164.5 L1034.5 169.1 L1039.5 173.2 L1044.5 175.5 L1049.5 178.0 L1054.7 180.4" fill="none" stroke="#e07fd6" stroke-width="1.05" stroke-linejoin="round" stroke-linecap="round"/>
<path d="M3.5 228.8 L9.3 240.4 L14.5 248.5 L19.2 253.8 L28.5 257.6 L34.3 264.0 L39.5 281.0 L44.3 293.7 L49.2 304.1 L54.2 308.8 L59.2 310.2 L64.6 311.1 L69.7 312.8 L74.7 321.6 L79.7 329.7 L84.7 332.0 L89.4 329.7 L94.4 328.3 L99.4 330.6 L104.3 333.2 L109.3 336.1 L114.3 338.7 L119.3 340.5 L124.3 336.7 L129.3 328.5 L134.7 328.3 L139.7 337.0 L144.7 342.5 L149.6 349.0 L154.6 356.7 L159.6 362.7 L164.6 363.3 L169.6 368.5 L174.6 377.8 L179.6 381.9 L184.6 384.8 L189.6 386.5 L193.7 387.3 L196.6 396.4 L199.3 406.7 L204.3 417.2 L209.7 425.3 L214.8 429.4 L219.8 431.1 L224.8 441.6 L229.7 447.4 L234.7 452.0 L239.7 454.9 L244.7 456.7 L249.4 457.8 L254.7 460.7 L259.4 464.2 L264.3 465.4 L269.4 467.3 L274.4 468.0 L279.3 468.5 L284.9 463.6 L290.1 460.1 L295.0 454.1 L300.0 453.8 L305.0 454.9 L309.8 460.1 L314.8 463.6 L320.0 463.0 L324.6 461.1 L329.6 459.1 L334.6 459.7 L339.2 461.4 L343.9 462.6 L346.2 469.0 L349.1 477.1 L354.3 482.9 L359.6 484.3 L364.2 485.2 L369.4 482.3 L374.7 476.5 L379.4 469.0 L384.5 460.3 L389.4 446.9 L394.4 436.5 L399.3 425.4 L404.3 415.3 L409.5 410.9 L414.7 405.1 L419.5 391.5 L424.5 376.7 L429.5 363.3 L434.5 352.3 L440.0 339.5 L444.6 328.1 L449.6 328.1 L454.6 328.7 L459.6 331.3 L464.6 332.1 L469.6 332.7 L474.6 346.7 L479.6 356.5 L484.6 361.2 L489.6 362.9 L494.6 360.8 L499.6 359.4 L504.6 362.9 L509.6 353.0 L514.6 347.2 L519.6 340.8 L524.5 332.7 L529.5 323.4 L534.5 309.5 L536.9 299.0 L539.5 291.5 L544.5 284.5 L547.3 277.0 L550.2 270.0 L557.3 250.0 L560.8 241.8 L564.5 230.1 L567.2 209.2 L569.5 193.6 L574.5 191.2 L579.5 190.1 L584.5 186.6 L589.5 182.3 L594.5 177.3 L600.0 178.5 L605.0 180.8 L609.6 184.4 L614.8 187.6 L619.9 191.4 L623.9 200.8 L626.5 210.0 L630.0 218.3 L634.8 229.9 L639.8 239.6 L644.7 248.3 L647.9 257.4 L654.8 265.6 L660.3 286.5 L665.3 295.7 L668.8 306.2 L675.3 315.5 L680.2 321.3 L685.0 320.1 L690.0 320.1 L695.1 320.7 L699.9 320.7 L705.0 317.2 L710.0 312.6 L714.9 306.8 L719.9 301.0 L724.9 299.5 L730.3 300.4 L735.3 300.4 L740.2 299.5 L745.4 299.5 L750.3 299.8 L755.3 299.2 L760.3 295.7 L765.2 292.3 L770.2 288.8 L775.1 289.7 L778.0 294.6 L780.0 298.1 L784.6 307.3 L789.6 312.7 L794.6 318.9 L799.6 327.2 L804.6 332.4 L809.6 337.0 L814.6 342.3 L819.6 349.2 L824.6 354.5 L829.6 358.5 L834.6 366.1 L839.6 370.1 L844.6 370.4 L849.5 369.6 L854.5 368.4 L859.5 364.3 L864.5 362.0 L869.5 357.4 L874.5 366.1 L879.5 369.0 L884.5 371.9 L889.5 373.4 L894.5 378.3 L899.5 377.3 L904.5 377.1 L909.5 377.7 L914.5 378.3 L920.0 375.4 L924.6 370.6 L929.6 364.8 L934.6 354.3 L939.6 341.6 L944.6 327.6 L949.6 312.5 L952.6 300.9 L954.6 292.8 L957.2 285.8 L960.0 280.8 L964.6 270.4 L969.6 266.3 L974.6 263.4 L979.6 257.6 L984.6 253.0 L989.6 248.6 L994.6 258.8 L999.6 269.2 L1004.6 276.8 L1009.6 283.2 L1014.6 286.4 L1019.6 287.2 L1024.6 288.7 L1029.6 289.2 L1034.6 289.7 L1039.6 290.4 L1044.6 291.5 L1049.5 293.0 L1055.0 296.5" fill="none" stroke="#b5815f" stroke-width="1.15" stroke-linejoin="round" stroke-linecap="round"/>
<path d="M3.5 185.2 L18.6 192.2 L29.0 195.1 L34.3 197.4 L39.5 202.0 L58.0 228.8 L65.0 234.0 L69.7 238.6 L84.8 256.7 L99.9 270.5 L110.3 278.0 L120.8 286.1 L128.9 293.1 L134.7 296.6 L144.0 300.7 L146.7 302.3 L158.3 311.0 L170.0 320.9 L182.7 327.9 L194.3 337.2 L206.0 350.0 L218.7 362.7 L229.2 376.7 L232.0 380.0 L243.6 389.3 L255.2 398.6 L264.5 406.7 L274.4 413.1 L279.3 417.2 L284.9 420.1 L290.1 424.1 L295.0 425.5 L300.0 424.7 L305.0 423.6 L309.8 421.2 L314.8 420.1 L320.0 420.7 L324.6 418.5 L329.6 416.1 L334.6 413.2 L339.2 410.3 L343.9 407.4 L349.3 400.0 L354.3 393.5 L359.6 386.5 L364.6 379.0 L369.6 370.8 L374.5 363.3 L379.5 353.4 L384.5 346.5 L389.5 339.5 L394.5 334.3 L399.5 329.0 L404.5 322.6 L409.5 320.9 L414.5 317.4 L419.5 312.8 L424.5 308.1 L429.5 302.9 L432.1 301.2 L435.0 300.1 L439.9 296.1 L445.1 290.6 L450.1 289.7 L454.7 289.1 L460.0 287.1 L464.9 286.2 L469.8 287.1 L474.8 281.0 L480.0 276.3 L501.0 250.0 L505.0 245.2 L509.6 236.5 L514.6 227.8 L519.6 219.7 L524.6 211.6 L529.5 203.4 L534.5 196.5 L539.5 189.7 L544.5 186.0 L549.5 180.8 L554.5 175.0 L559.5 169.7 L564.5 165.1 L569.5 158.1 L574.5 157.5 L579.5 157.0 L584.5 154.6 L589.5 152.6 L594.5 151.4 L600.0 151.7 L605.0 153.2 L610.0 154.9 L614.8 157.0 L619.8 160.0 L624.8 164.0 L629.7 169.2 L634.6 173.3 L639.6 176.8 L644.6 180.8 L649.6 185.5 L654.6 189.6 L659.6 196.5 L664.6 202.9 L669.5 209.3 L674.9 214.3 L680.1 220.1 L685.0 226.5 L690.0 232.8 L695.0 239.6 L699.9 244.3 L705.0 248.5 L710.0 252.4 L714.9 256.8 L719.9 260.2 L724.9 262.8 L730.3 265.2 L735.3 267.2 L740.2 267.9 L745.4 267.5 L750.3 267.4 L755.3 267.9 L760.3 266.5 L765.2 265.0 L770.2 263.2 L775.1 263.0 L780.0 265.0 L784.6 268.2 L789.6 269.9 L794.6 271.7 L799.6 274.6 L804.6 277.5 L809.6 281.0 L814.6 284.5 L819.6 287.4 L824.6 290.3 L829.6 292.8 L834.6 296.5 L839.6 300.6 L844.6 306.4 L849.5 311.0 L854.5 314.0 L859.5 315.4 L864.5 316.5 L869.5 317.2 L874.5 315.8 L879.5 313.6 L884.5 310.8 L889.5 307.8 L894.5 303.0 L899.5 298.5 L904.5 294.2 L909.5 289.8 L914.5 283.9 L920.0 275.7 L937.5 250.0 L945.0 240.6 L950.3 235.4 L955.5 230.1 L960.5 226.9 L965.6 221.5 L970.6 216.4 L975.5 214.5 L980.5 212.8 L985.5 211.3 L990.0 210.4 L994.6 212.5 L999.6 214.9 L1004.6 217.2 L1009.6 219.3 L1014.6 221.7 L1019.6 223.2 L1024.6 224.9 L1029.6 227.0 L1034.6 229.7 L1039.6 232.0 L1044.6 233.8 L1049.5 235.8 L1055.0 238.4" fill="none" stroke="#7d8df5" stroke-width="1.1" stroke-linejoin="round" stroke-linecap="round"/>
<path d="M3.5 186.5 L9.3 198.6 L14.5 207.3 L19.7 213.1 L24.4 216.0 L29.0 217.2 L34.3 224.7 L39.5 239.2 L48.8 253.2 L58.0 260.1 L65.0 262.4 L69.7 265.0 L74.7 274.0 L79.7 283.2 L84.8 289.0 L89.4 288.5 L94.4 287.3 L99.4 288.1 L104.3 290.8 L109.3 293.7 L114.3 298.9 L119.3 302.4 L124.3 304.1 L129.3 303.9 L134.7 304.0 L139.7 310.5 L144.7 315.7 L149.6 319.2 L154.6 323.8 L159.6 328.5 L164.6 331.9 L169.6 338.3 L174.6 345.3 L179.6 350.9 L184.6 354.0 L189.6 355.7 L194.6 359.2 L199.6 367.4 L204.6 374.3 L209.5 380.5 L214.8 385.8 L219.8 388.5 L224.8 396.0 L229.7 405.0 L234.7 411.4 L239.7 417.7 L244.7 420.7 L249.4 420.7 L254.7 421.6 L259.4 423.6 L264.3 427.6 L269.4 430.9 L274.4 430.9 L279.3 430.5 L284.9 430.2 L290.1 431.1 L295.0 431.1 L300.0 430.2 L305.0 427.9 L309.8 420.7 L314.8 413.7 L320.0 410.0 L324.6 406.5 L329.6 400.5 L334.6 395.8 L339.6 388.9 L344.6 383.0 L349.6 369.7 L354.6 359.2 L359.6 349.9 L364.6 338.3 L369.6 327.9 L374.5 317.4 L379.5 305.8 L381.6 301.2 L384.8 295.5 L389.7 288.5 L394.9 285.3 L399.8 287.1 L404.8 286.8 L409.5 292.6 L414.5 296.1 L419.4 298.0 L424.5 299.2 L429.3 300.1 L435.0 301.9 L439.9 303.0 L445.1 297.2 L450.1 294.3 L454.7 292.9 L460.0 283.3 L464.9 277.8 L469.8 276.7 L474.8 262.4 L480.0 250.5 L484.7 239.4 L489.7 229.0 L494.6 222.0 L499.6 211.6 L504.6 199.9 L509.6 189.5 L514.6 177.9 L516.9 170.0 L519.8 162.9 L524.8 157.6 L529.8 153.6 L534.7 150.9 L539.7 149.5 L544.8 148.0 L549.7 148.0 L554.9 148.7 L559.7 149.0 L564.8 152.5 L569.8 155.4 L574.7 157.1 L580.2 159.0 L585.2 156.8 L590.1 155.0 L595.0 154.0 L600.0 154.7 L605.0 157.4 L610.0 161.1 L614.8 162.6 L619.8 165.4 L624.8 170.4 L629.7 178.5 L634.6 187.8 L639.6 197.1 L644.6 205.2 L647.4 210.0 L649.7 214.8 L655.5 221.2 L660.2 232.3 L665.3 243.9 L670.3 253.0 L675.3 258.8 L680.2 263.1 L685.0 266.3 L690.0 269.9 L695.1 272.9 L699.9 274.5 L705.0 274.6 L710.0 271.6 L714.9 268.2 L719.9 266.1 L724.9 266.5 L730.3 266.1 L735.3 267.3 L740.2 266.7 L745.4 262.8 L750.3 260.0 L755.3 260.4 L760.3 261.4 L765.2 261.5 L770.2 260.3 L775.1 260.9 L780.0 264.2 L784.6 268.8 L789.6 274.0 L794.6 281.0 L799.6 288.5 L804.6 294.3 L809.6 299.7 L814.6 305.5 L819.6 315.0 L824.6 319.6 L829.6 321.4 L834.6 324.8 L839.6 328.3 L844.6 330.7 L849.5 330.9 L854.5 331.6 L859.5 330.4 L864.5 326.0 L869.5 319.6 L874.5 311.6 L879.5 305.2 L884.5 295.0 L889.5 286.2 L894.5 275.7 L899.5 266.5 L904.5 256.0 L909.0 248.9 L914.9 239.0 L920.0 231.4 L925.1 229.0 L929.9 222.0 L934.9 215.6 L940.0 210.4 L945.0 208.7 L950.3 206.3 L955.5 204.4 L960.5 204.4 L965.6 204.4 L970.6 201.1 L975.5 201.1 L980.5 202.8 L985.5 207.5 L989.8 210.5 L994.6 216.0 L999.6 223.5 L1004.6 229.8 L1009.6 234.0 L1014.6 239.0 L1019.6 245.8 L1024.6 249.5 L1029.6 250.9 L1034.6 252.4 L1039.6 253.9 L1044.6 252.4 L1049.5 249.5 L1055.0 247.2" fill="none" stroke="#45c5e0" stroke-width="1.15" stroke-linejoin="round" stroke-linecap="round"/>
<path d="M3.5 199.6 L9.3 213.7 L14.5 226.5 L19.2 233.4 L24.4 233.4 L29.0 232.5 L34.3 234.0 L39.5 242.7 L46.5 261.0 L50.0 272.2 L54.2 282.0 L59.2 286.7 L64.6 280.9 L69.7 276.0 L74.7 280.3 L79.7 287.9 L84.7 293.1 L89.4 296.6 L94.4 297.4 L99.4 296.6 L104.3 294.6 L109.3 296.0 L114.3 300.7 L119.3 306.5 L124.3 307.4 L129.3 306.8 L134.7 310.5 L139.7 317.7 L144.7 323.5 L149.6 331.0 L154.6 341.0 L159.6 347.0 L164.6 348.8 L169.6 354.6 L174.6 359.8 L179.6 360.4 L184.6 361.0 L189.6 363.9 L194.6 366.2 L199.6 376.7 L204.3 388.1 L209.7 399.7 L214.8 407.3 L219.8 411.1 L224.8 414.3 L229.7 418.3 L234.7 420.4 L239.7 424.1 L244.7 431.1 L249.4 425.9 L254.7 423.9 L259.4 425.5 L264.3 429.9 L269.4 432.8 L274.4 436.0 L279.3 437.5 L284.9 434.6 L290.1 434.0 L295.0 429.4 L300.0 424.1 L305.0 417.2 L309.8 407.9 L314.8 394.5 L320.0 390.5 L324.6 386.5 L329.6 384.2 L334.6 384.2 L339.6 381.9 L344.6 374.3 L347.4 360.4 L349.6 348.8 L354.6 329.0 L359.6 313.9 L364.4 298.3 L369.9 279.5 L374.8 281.6 L379.8 276.9 L384.8 278.7 L389.7 285.0 L394.9 290.3 L399.8 292.6 L404.8 296.7 L409.5 305.4 L414.5 306.9 L419.4 305.4 L424.5 304.8 L429.3 306.9 L435.0 300.1 L439.9 298.0 L445.1 289.7 L450.1 282.7 L454.7 276.9 L460.0 264.1 L464.9 256.9 L469.8 264.7 L474.8 243.0 L479.7 229.0 L484.7 216.2 L489.7 199.9 L492.3 188.3 L494.6 180.8 L499.6 177.9 L505.0 169.8 L509.9 162.3 L514.9 154.2 L519.2 146.6 L525.0 137.9 L530.0 137.4 L534.9 141.4 L539.9 147.2 L544.8 153.6 L549.7 158.8 L554.9 160.0 L559.7 155.9 L564.8 157.3 L569.8 156.2 L574.7 156.5 L580.2 159.0 L585.2 156.8 L590.2 154.0 L595.1 152.8 L600.1 154.0 L605.0 157.8 L610.0 164.4 L614.8 171.6 L619.8 178.5 L624.8 187.8 L629.7 201.8 L634.1 211.2 L639.8 224.1 L644.8 234.6 L649.7 242.1 L655.5 243.1 L660.3 252.0 L665.3 265.2 L670.3 274.3 L675.3 277.7 L680.2 284.1 L685.0 277.9 L690.0 273.7 L695.1 272.5 L699.9 272.2 L705.0 265.2 L710.0 261.7 L714.9 260.2 L719.9 260.0 L724.9 260.8 L730.3 267.5 L735.3 273.2 L740.2 272.7 L745.4 264.3 L750.3 258.2 L755.3 253.3 L760.3 250.0 L765.2 251.6 L770.2 254.5 L775.1 260.9 L780.0 273.7 L784.6 285.0 L789.6 293.2 L794.6 305.5 L799.6 315.0 L804.6 316.6 L809.6 316.2 L814.6 318.8 L819.6 323.9 L824.6 324.3 L829.6 326.6 L834.6 333.0 L839.6 336.7 L844.6 337.9 L849.5 337.4 L854.5 337.4 L858.5 328.9 L864.5 314.3 L869.5 302.6 L874.5 283.9 L879.5 268.8 L884.5 259.5 L889.5 253.7 L894.2 245.8 L900.0 245.4 L904.9 241.7 L909.9 235.2 L914.9 225.7 L919.3 219.2 L925.1 212.1 L929.9 203.4 L934.9 197.0 L940.0 197.4 L945.0 199.4 L950.3 200.2 L955.5 204.6 L960.5 211.6 L965.6 212.1 L970.6 201.1 L975.5 200.5 L980.5 201.1 L985.5 201.7 L989.8 209.0 L994.6 227.5 L999.6 246.0 L1004.6 257.0 L1009.6 264.6 L1014.6 269.8 L1019.6 262.8 L1024.6 255.3 L1029.6 246.0 L1034.6 239.0 L1039.6 237.3 L1044.6 240.4 L1049.5 242.8 L1052.9 246.2 L1055.0 250.3" fill="none" stroke="#f9a055" stroke-width="1.12" stroke-linejoin="round" stroke-linecap="round"/>
<defs><radialGradient id="gl"><stop offset="0" stop-color="#12a58a" stop-opacity=".45"/><stop offset=".45" stop-color="#12a58a" stop-opacity=".2"/><stop offset="1" stop-color="#12a58a" stop-opacity="0"/></radialGradient></defs>
<circle cx="1055.2" cy="265.8" r="8" fill="url(#gl)"/>
<circle cx="1055.2" cy="265.8" r="2.4" fill="#12a58a"/>
<line x1="3" y1="301.3" x2="1327" y2="301.3" stroke="#ff00ff" stroke-width="3"/>
<line x1="1070.9" y1="272.8" x2="1084.4" y2="190" stroke="#ff00ff" stroke-width="2.6"/>
<path d="M1085.6 182.3 L1090.2 191.6 L1079.3 190.4 Z" fill="#ff00ff"/>
<path d="M565.5 92.5H573.5" stroke="#8a8fa0" stroke-width="1" stroke-dasharray="1.5 1.5"/>
<path d="M275 464.5H284" stroke="#8a8fa0" stroke-width="1" stroke-dasharray="1.5 1.5"/>
<g fill="#12a58a"><rect x="2.5" y="682.8" width="3.9" height="6.4"/><rect x="7.5" y="682.8" width="3.9" height="17.8"/><rect x="12.5" y="682.8" width="3.9" height="24.7"/><rect x="17.5" y="682.8" width="3.9" height="24.7"/><rect x="22.5" y="682.8" width="3.9" height="11.7"/><rect x="27.5" y="682.8" width="3.9" height="0.8"/><rect x="32.5" y="682.8" width="3.9" height="5.9"/><rect x="37.5" y="682.8" width="3.9" height="26.1"/><rect x="42.5" y="682.8" width="3.9" height="38.3"/><rect x="47.5" y="682.8" width="3.9" height="39.5"/><rect x="52.5" y="682.8" width="3.9" height="32.6"/><rect x="57.5" y="682.8" width="3.9" height="23"/><rect x="62.5" y="682.8" width="3.9" height="8.2"/><rect x="67.5" y="682.8" width="3.9" height="0.9"/><rect x="72.5" y="682.8" width="3.9" height="9.6"/><rect x="77.5" y="682.8" width="3.9" height="15.2"/><rect x="82.5" y="682.8" width="3.9" height="11.1"/><rect x="142.6" y="682.8" width="3.9" height="0.8"/><rect x="147.6" y="682.8" width="3.9" height="2.1"/><rect x="152.6" y="682.8" width="3.9" height="7"/><rect x="157.6" y="682.8" width="3.9" height="9.4"/><rect x="162.6" y="682.8" width="3.9" height="3"/><rect x="167.6" y="682.8" width="3.9" height="7"/><rect x="172.6" y="682.8" width="3.9" height="9.9"/><rect x="177.6" y="682.8" width="3.9" height="3.8"/><rect x="197.6" y="682.8" width="3.9" height="15.2"/><rect x="202.7" y="682.8" width="3.9" height="23.3"/><rect x="207.7" y="682.8" width="3.9" height="26.5"/><rect x="212.7" y="682.8" width="3.9" height="16.9"/><rect x="217.7" y="682.8" width="3.9" height="3"/><rect x="222.7" y="682.8" width="3.9" height="13.4"/><rect x="227.7" y="682.8" width="3.9" height="18.3"/><rect x="232.7" y="682.8" width="3.9" height="13.9"/><rect x="237.7" y="682.8" width="3.9" height="4.4"/><rect x="407.9" y="682.8" width="3.9" height="23"/><rect x="412.9" y="682.8" width="3.9" height="24.7"/><rect x="417.9" y="682.8" width="3.9" height="23.9"/><rect x="422.9" y="682.8" width="3.9" height="23.9"/><rect x="427.9" y="682.8" width="3.9" height="21.6"/><rect x="432.9" y="682.8" width="3.9" height="23.9"/><rect x="437.9" y="682.8" width="3.9" height="25.1"/><rect x="442.9" y="682.8" width="3.9" height="2.1"/><rect x="447.9" y="682.8" width="3.9" height="0.9"/><rect x="467.9" y="682.8" width="3.9" height="3.8"/><rect x="538" y="682.8" width="3.9" height="12.2"/><rect x="543" y="682.8" width="3.9" height="24.7"/><rect x="548" y="682.8" width="3.9" height="36.1"/><rect x="553" y="682.8" width="3.9" height="33.8"/><rect x="558" y="682.8" width="3.9" height="30"/><rect x="563" y="682.8" width="3.9" height="41.3"/><rect x="568" y="682.8" width="3.9" height="43.9"/><rect x="573" y="682.8" width="3.9" height="47.7"/><rect x="578" y="682.8" width="3.9" height="47.4"/><rect x="583" y="682.8" width="3.9" height="36.1"/><rect x="588" y="682.8" width="3.9" height="32.1"/><rect x="593" y="682.8" width="3.9" height="33.8"/><rect x="598" y="682.8" width="3.9" height="43"/><rect x="603" y="682.8" width="3.9" height="47.7"/><rect x="608.1" y="682.8" width="3.9" height="51.2"/><rect x="613.1" y="682.8" width="3.9" height="53"/><rect x="618.1" y="682.8" width="3.9" height="55.7"/><rect x="623.1" y="682.8" width="3.9" height="67.4"/><rect x="628.1" y="682.8" width="3.9" height="81.9"/><rect x="633.1" y="682.8" width="3.9" height="87.8"/><rect x="638.1" y="682.8" width="3.9" height="86.1"/><rect x="643.1" y="682.8" width="3.9" height="80.5"/><rect x="648.1" y="682.8" width="3.9" height="81"/><rect x="653.1" y="682.8" width="3.9" height="71.4"/><rect x="658.1" y="682.8" width="3.9" height="81.4"/><rect x="663.1" y="682.8" width="3.9" height="82.6"/><rect x="668.1" y="682.8" width="3.9" height="77.9"/><rect x="673.1" y="682.8" width="3.9" height="62.7"/><rect x="678.1" y="682.8" width="3.9" height="53.1"/><rect x="683.1" y="682.8" width="3.9" height="35.2"/><rect x="688.1" y="682.8" width="3.9" height="23"/><rect x="693.1" y="682.8" width="3.9" height="17.8"/><rect x="698.1" y="682.8" width="3.9" height="8.7"/><rect x="778.2" y="682.8" width="3.9" height="6.4"/><rect x="783.2" y="682.8" width="3.9" height="20"/><rect x="788.2" y="682.8" width="3.9" height="25.6"/><rect x="793.2" y="682.8" width="3.9" height="27"/><rect x="798.2" y="682.8" width="3.9" height="33.4"/><rect x="803.2" y="682.8" width="3.9" height="29.4"/><rect x="808.3" y="682.8" width="3.9" height="23.9"/><rect x="813.3" y="682.8" width="3.9" height="22.5"/><rect x="818.3" y="682.8" width="3.9" height="23"/><rect x="823.3" y="682.8" width="3.9" height="20"/><rect x="828.3" y="682.8" width="3.9" height="15.2"/><rect x="833.3" y="682.8" width="3.9" height="19"/><rect x="838.3" y="682.8" width="3.9" height="15.5"/><rect x="843.3" y="682.8" width="3.9" height="9.6"/><rect x="848.3" y="682.8" width="3.9" height="1.2"/><rect x="958.4" y="682.8" width="3.9" height="10.2"/><rect x="963.4" y="682.8" width="3.9" height="11.8"/><rect x="978.4" y="682.8" width="3.9" height="14.2"/><rect x="983.4" y="682.8" width="3.9" height="26.9"/><rect x="988.4" y="682.8" width="3.9" height="37.5"/><rect x="993.4" y="682.8" width="3.9" height="57.8"/><rect x="998.4" y="682.8" width="3.9" height="76.1"/><rect x="1003.4" y="682.8" width="3.9" height="79.1"/><rect x="1008.5" y="682.8" width="3.9" height="73.5"/><rect x="1013.5" y="682.8" width="3.9" height="61.3"/><rect x="1018.5" y="682.8" width="3.9" height="40.8"/><rect x="1023.5" y="682.8" width="3.9" height="32"/><rect x="1028.5" y="682.8" width="3.9" height="19.7"/><rect x="1033.5" y="682.8" width="3.9" height="16.3"/><rect x="1038.5" y="682.8" width="3.9" height="14"/><rect x="1043.5" y="682.8" width="3.9" height="13"/><rect x="1048.5" y="682.8" width="3.9" height="14"/><rect x="1053.5" y="682.8" width="3.9" height="19.2"/></g>
<g fill="#d94b5c"><rect x="87.5" y="681.8" width="3.9" height="1"/><rect x="92.5" y="669.2" width="3.9" height="13.6"/><rect x="97.5" y="671.8" width="3.9" height="11"/><rect x="102.5" y="673.6" width="3.9" height="9.2"/><rect x="107.6" y="672.7" width="3.9" height="10.1"/><rect x="112.6" y="671.3" width="3.9" height="11.5"/><rect x="117.6" y="671.3" width="3.9" height="11.5"/><rect x="122.6" y="666.6" width="3.9" height="16.2"/><rect x="127.6" y="663.6" width="3.9" height="19.2"/><rect x="132.6" y="668.9" width="3.9" height="13.9"/><rect x="137.6" y="678.8" width="3.9" height="4"/><rect x="182.6" y="680" width="3.9" height="2.8"/><rect x="187.6" y="677.6" width="3.9" height="5.2"/><rect x="192.6" y="677.6" width="3.9" height="5.2"/><rect x="242.7" y="680" width="3.9" height="2.8"/><rect x="247.7" y="671" width="3.9" height="11.8"/><rect x="252.7" y="669.6" width="3.9" height="13.2"/><rect x="257.7" y="671.8" width="3.9" height="11"/><rect x="262.7" y="671.8" width="3.9" height="11"/><rect x="267.7" y="669.6" width="3.9" height="13.2"/><rect x="272.7" y="662.8" width="3.9" height="20"/><rect x="277.7" y="666.1" width="3.9" height="16.7"/><rect x="282.7" y="656.2" width="3.9" height="26.6"/><rect x="287.7" y="658.5" width="3.9" height="24.3"/><rect x="292.7" y="647.6" width="3.9" height="35.2"/><rect x="297.7" y="640.3" width="3.9" height="42.5"/><rect x="302.8" y="633.3" width="3.9" height="49.5"/><rect x="307.8" y="617.6" width="3.9" height="65.2"/><rect x="312.8" y="608.9" width="3.9" height="73.9"/><rect x="317.8" y="616.2" width="3.9" height="66.6"/><rect x="322.8" y="623.9" width="3.9" height="58.9"/><rect x="327.8" y="628.9" width="3.9" height="53.9"/><rect x="332.8" y="627.2" width="3.9" height="55.6"/><rect x="337.8" y="624.1" width="3.9" height="58.7"/><rect x="342.8" y="625.5" width="3.9" height="57.3"/><rect x="347.8" y="594.4" width="3.9" height="88.4"/><rect x="352.8" y="583.1" width="3.9" height="99.7"/><rect x="357.8" y="578.9" width="3.9" height="103.9"/><rect x="362.8" y="575.5" width="3.9" height="107.3"/><rect x="367.8" y="582.8" width="3.9" height="100"/><rect x="372.8" y="600.2" width="3.9" height="82.6"/><rect x="377.8" y="606.3" width="3.9" height="76.5"/><rect x="382.8" y="624.9" width="3.9" height="57.9"/><rect x="387.8" y="643.4" width="3.9" height="39.4"/><rect x="392.8" y="664.6" width="3.9" height="18.2"/><rect x="397.8" y="678.3" width="3.9" height="4.5"/><rect x="402.8" y="679.3" width="3.9" height="3.5"/><rect x="452.9" y="681.1" width="3.9" height="1.7"/><rect x="457.9" y="670.6" width="3.9" height="12.2"/><rect x="462.9" y="671" width="3.9" height="11.8"/><rect x="472.9" y="653.3" width="3.9" height="29.5"/><rect x="477.9" y="631.5" width="3.9" height="51.3"/><rect x="482.9" y="626.3" width="3.9" height="56.5"/><rect x="487.9" y="626.3" width="3.9" height="56.5"/><rect x="492.9" y="631.5" width="3.9" height="51.3"/><rect x="497.9" y="633.6" width="3.9" height="49.2"/><rect x="502.9" y="625.8" width="3.9" height="57"/><rect x="508" y="629.5" width="3.9" height="53.3"/><rect x="513" y="634.7" width="3.9" height="48.1"/><rect x="518" y="640.6" width="3.9" height="42.2"/><rect x="523" y="649.3" width="3.9" height="33.5"/><rect x="528" y="657.8" width="3.9" height="25"/><rect x="533" y="677.9" width="3.9" height="4.9"/><rect x="703.1" y="673.9" width="3.9" height="8.9"/><rect x="708.2" y="663.5" width="3.9" height="19.3"/><rect x="713.2" y="659.3" width="3.9" height="23.5"/><rect x="718.2" y="664.9" width="3.9" height="17.9"/><rect x="723.2" y="668.7" width="3.9" height="14.1"/><rect x="728.2" y="671.5" width="3.9" height="11.3"/><rect x="733.2" y="672.9" width="3.9" height="9.9"/><rect x="738.2" y="662.8" width="3.9" height="20"/><rect x="743.2" y="649.5" width="3.9" height="33.3"/><rect x="748.2" y="644.6" width="3.9" height="38.2"/><rect x="753.2" y="647.8" width="3.9" height="35"/><rect x="758.2" y="651.6" width="3.9" height="31.2"/><rect x="763.2" y="657.5" width="3.9" height="25.3"/><rect x="768.2" y="657.2" width="3.9" height="25.6"/><rect x="773.2" y="668.3" width="3.9" height="14.5"/><rect x="853.3" y="676.7" width="3.9" height="6.1"/><rect x="858.3" y="657.9" width="3.9" height="24.9"/><rect x="863.3" y="640.5" width="3.9" height="42.3"/><rect x="868.3" y="628.1" width="3.9" height="54.7"/><rect x="873.3" y="605.4" width="3.9" height="77.4"/><rect x="878.3" y="603.7" width="3.9" height="79.1"/><rect x="883.3" y="602.8" width="3.9" height="80"/><rect x="888.3" y="607.5" width="3.9" height="75.3"/><rect x="893.3" y="601.4" width="3.9" height="81.4"/><rect x="898.3" y="607.5" width="3.9" height="75.3"/><rect x="903.3" y="614.5" width="3.9" height="68.3"/><rect x="908.4" y="617.5" width="3.9" height="65.3"/><rect x="913.4" y="613.3" width="3.9" height="69.5"/><rect x="918.4" y="613.3" width="3.9" height="69.5"/><rect x="923.4" y="621.8" width="3.9" height="61"/><rect x="928.4" y="626.2" width="3.9" height="56.6"/><rect x="933.4" y="631.1" width="3.9" height="51.7"/><rect x="938.4" y="642.9" width="3.9" height="39.9"/><rect x="943.4" y="656.2" width="3.9" height="26.6"/><rect x="948.4" y="668.6" width="3.9" height="14.2"/><rect x="953.4" y="680.3" width="3.9" height="2.5"/><rect x="968.4" y="673.3" width="3.9" height="9.5"/><rect x="973.4" y="681.5" width="3.9" height="1.3"/></g>
<path d="M3.1 750.2 L9.6 759.8 L14.6 765.9 L19.5 768.8 L24.6 763.2 L29.6 758.0 L34.5 761.5 L39.5 775.4 L44.6 786.8 L49.7 791.5 L54.5 792.0 L59.6 789.4 L64.6 784.1 L69.7 780.3 L74.6 786.8 L79.6 791.1 L84.7 790.2 L89.5 784.1 L94.6 775.8 L99.7 775.8 L104.5 775.1 L109.6 773.3 L114.6 771.1 L119.5 769.9 L124.6 765.9 L129.6 761.8 L134.5 762.9 L139.5 767.1 L144.6 769.3 L149.5 770.6 L154.5 774.0 L159.6 776.3 L164.5 774.0 L169.5 776.8 L174.6 779.3 L179.4 776.3 L184.5 772.8 L189.5 770.6 L194.4 770.2 L199.5 783.3 L204.5 790.2 L209.4 794.6 L214.5 792.0 L219.5 785.9 L224.4 792.9 L229.4 797.7 L234.5 796.3 L240.0 792.0 L244.6 787.6 L249.5 782.8 L254.6 779.8 L259.6 779.8 L264.7 778.0 L269.5 775.1 L274.6 769.9 L279.7 768.8 L284.5 761.5 L289.6 758.9 L294.6 749.3 L299.7 739.7 L304.6 730.1 L309.6 714.5 L314.7 700.5 L319.5 695.6 L324.6 691.8 L329.7 687.5 L334.5 679.6 L339.6 671.8 L343.2 665.5 L346.7 648.9 L349.7 634.1 L354.6 618.4 L359.6 603.6 L364.7 590.6 L369.7 581.0 L374.6 579.2 L379.7 572.6 L384.7 574.9 L389.6 579.2 L394.6 587.1 L399.5 593.5 L404.6 594.0 L409.6 609.7 L414.7 614.1 L419.5 616.7 L424.6 620.2 L429.7 621.4 L434.7 625.4 L439.6 629.4 L444.6 618.4 L449.7 617.9 L454.7 614.9 L459.6 609.2 L464.7 608.0 L469.4 616.1 L474.6 596.7 L479.5 578.4 L484.6 568.8 L489.6 561.5 L494.7 557.5 L499.5 552.2 L504.6 541.8 L509.7 536.6 L514.5 533.6 L519.6 531.3 L524.6 531.3 L529.7 532.5 L534.6 542.3 L539.6 553.1 L544.7 562.7 L549.5 571.9 L554.6 574.9 L559.7 577.1 L564.5 587.1 L569.6 594.0 L574.6 601.9 L579.7 608.5 L584.6 607.5 L589.6 609.2 L594.7 614.1 L599.7 623.7 L604.6 632.4 L609.7 640.2 L614.7 648.5 L619.6 657.0 L624.6 670.9 L629.7 691.8 L634.6 704.9 L639.6 713.6 L644.7 721.1 L649.5 730.1 L654.6 734.0 L659.7 750.2 L664.7 761.5 L669.6 768.5 L674.6 768.8 L679.7 770.6 L684.7 766.4 L689.6 763.2 L694.7 762.4 L700.0 758.4 L704.6 748.5 L709.5 740.6 L714.6 736.3 L719.6 736.6 L724.7 737.1 L729.7 737.1 L734.6 736.3 L739.7 729.3 L744.5 718.9 L749.6 711.0 L754.6 708.0 L759.7 706.0 L764.6 705.8 L769.6 702.8 L774.7 706.7 L779.5 718.0 L784.6 727.6 L789.7 733.7 L794.5 738.0 L799.6 744.6 L804.6 746.4 L809.7 746.7 L814.6 748.8 L819.6 752.0 L824.7 753.0 L829.7 752.8 L834.6 756.8 L839.7 757.2 L844.7 755.4 L849.6 751.1 L854.6 746.4 L859.7 732.8 L864.6 718.9 L869.6 705.8 L874.7 685.7 L879.5 677.0 L884.6 667.5 L889.7 659.6 L894.7 647.4 L899.6 639.6 L904.6 633.5 L908.8 628.3 L914.6 615.3 L919.6 606.6 L924.7 603.1 L929.7 598.7 L934.8 594.7 L939.7 595.8 L944.5 598.7 L950.1 602.8 L955.3 609.2 L960.2 616.7 L965.1 618.8 L970.1 606.9 L975.2 610.9 L979.9 620.5 L984.9 630.1 L989.8 639.7 L994.7 657.1 L999.6 674.5 L1004.6 686.4 L1009.7 694.0 L1014.6 695.8 L1019.6 691.6 L1025.2 691.1 L1030.2 687.6 L1035.1 687.6 L1040.3 688.5 L1045.2 689.3 L1050.3 692.0 L1055.2 695.8" fill="none" stroke="#f9a862" stroke-width="1.05" stroke-linejoin="round" stroke-linecap="round"/>
<path d="M3.1 747.2 L9.6 750.2 L19.5 755.9 L29.6 758.0 L34.5 758.4 L39.5 761.5 L49.7 771.1 L59.6 778.6 L69.7 779.8 L74.6 781.0 L84.7 784.7 L89.5 784.1 L99.7 781.0 L109.6 778.6 L119.5 775.8 L129.6 771.1 L139.5 769.3 L149.5 769.9 L159.6 771.6 L169.5 772.8 L179.4 775.1 L189.5 774.6 L194.4 773.3 L204.5 778.6 L214.5 783.3 L219.5 784.1 L229.4 788.5 L234.5 789.9 L240.0 790.2 L242.2 790.2 L249.5 788.5 L259.6 785.5 L269.5 782.1 L279.7 777.2 L289.6 772.0 L299.7 763.2 L304.6 756.3 L309.6 747.6 L314.7 738.9 L319.5 730.1 L324.6 722.3 L329.7 715.3 L334.5 708.4 L339.6 701.4 L344.6 693.2 L349.5 682.2 L354.6 669.2 L359.6 656.8 L364.7 643.7 L369.7 630.6 L374.6 620.2 L379.7 610.6 L384.7 602.8 L389.6 598.4 L394.6 596.7 L399.5 596.1 L404.6 595.8 L409.6 599.3 L414.7 602.2 L419.5 605.4 L424.6 608.5 L429.7 610.9 L434.7 613.7 L439.6 616.2 L444.6 617.0 L449.7 617.2 L454.7 616.7 L459.6 615.5 L464.7 614.4 L470.0 614.4 L474.6 610.9 L479.5 604.5 L484.6 596.7 L489.6 589.7 L494.7 582.7 L499.5 576.6 L504.6 570.5 L509.7 563.6 L514.5 557.5 L519.6 552.2 L524.6 547.9 L529.7 545.3 L534.6 544.7 L539.6 546.1 L544.7 549.3 L549.5 554.0 L554.6 558.3 L559.7 562.2 L564.5 567.9 L569.6 573.7 L574.6 579.6 L579.7 584.8 L584.6 589.3 L589.6 593.2 L594.7 597.5 L599.7 602.8 L604.6 608.9 L609.7 615.5 L614.7 622.4 L619.6 629.4 L624.6 637.6 L629.5 648.0 L634.6 660.0 L639.6 670.5 L644.7 681.4 L649.5 690.9 L654.6 698.8 L659.7 708.9 L664.7 718.8 L669.6 728.4 L674.6 737.1 L679.7 744.9 L684.7 749.3 L689.6 751.9 L694.7 753.8 L700.0 754.9 L704.6 753.3 L709.5 751.1 L714.6 748.5 L719.6 745.9 L724.7 744.1 L729.7 742.9 L734.6 741.5 L739.7 738.9 L744.5 734.5 L749.6 729.7 L754.6 725.5 L759.7 721.5 L764.6 718.5 L769.6 715.4 L774.7 713.6 L779.5 714.5 L784.6 717.1 L789.7 720.6 L794.5 724.1 L799.6 728.4 L804.6 731.9 L809.7 734.9 L814.6 738.0 L819.6 741.1 L824.7 743.6 L829.7 745.9 L834.6 748.1 L839.7 749.9 L844.7 750.6 L849.6 750.6 L854.6 750.2 L859.7 747.1 L864.6 741.5 L869.6 734.5 L874.7 724.9 L879.5 715.4 L884.6 704.9 L889.7 694.5 L894.7 684.0 L899.6 672.7 L904.6 663.1 L909.7 655.3 L914.7 647.4 L919.6 640.5 L924.7 634.4 L927.8 630.0 L934.8 619.7 L939.7 615.3 L944.5 612.2 L950.1 610.9 L955.3 610.4 L960.2 611.5 L965.1 612.7 L970.1 611.8 L975.2 611.8 L979.9 613.6 L984.9 616.7 L989.8 621.4 L994.7 629.2 L999.6 638.8 L1004.6 648.4 L1009.7 658.0 L1014.6 665.5 L1019.6 670.7 L1025.2 674.5 L1030.2 677.1 L1035.1 679.4 L1040.3 681.1 L1045.2 682.9 L1050.3 684.6 L1055.2 685.8" fill="none" stroke="#45c5e0" stroke-width="1.05" stroke-linejoin="round" stroke-linecap="round"/>
<!-- UI icons -->
<g id="icons">
<circle cx="21.5" cy="14" r="6.6" fill="#e9bb3e"/>
<ellipse cx="21.5" cy="12.3" rx="1.7" ry="0.9" fill="#fff"/>
<ellipse cx="19.1" cy="15.3" rx="1.7" ry="0.9" fill="#fff"/>
<ellipse cx="23.9" cy="15.3" rx="1.7" ry="0.9" fill="#fff"/>
<path d="M136.3 13.2h5l-2.5 2.8z" fill="#6f7486"/>
<path d="M601.5 33h4.6l-2.3 2.6z" fill="#6f7486"/>
<g stroke="#7d8397" stroke-width="1.4" fill="none"><path d="M16.2 52.1l8.4 8.4M24.6 52.1l-8.4 8.4"/><path d="M16.2 67.1l8.4 8.4M24.6 67.1l-8.4 8.4"/><path d="M15.7 516.3l8.4 8.4M24.1 516.3l-8.4 8.4"/></g><g stroke="#9297aa" stroke-width="1.5" fill="none" stroke-linejoin="round"><path d="M35.1 51.1l4.4 2.5v5.2l-4.4 2.5l-4.4-2.5v-5.2z"/><circle cx="35.1" cy="56.2" r="1.8"/><path d="M35.1 66.1l4.4 2.5v5.2l-4.4 2.5l-4.4-2.5v-5.2z"/><circle cx="35.1" cy="71.2" r="1.8"/><path d="M36.1 515l4.4 2.5v5.2l-4.4 2.5l-4.4-2.5v-5.2z"/><circle cx="36.1" cy="520.1" r="1.8"/></g>
<path d="M1373 194L1359.5 201V240.5L1373 247Z" fill="#e9eaf1"/>
<path d="M1364.2 216.8l3.6 4l-3.6 4" stroke="#6b7083" stroke-width="1.2" fill="none"/>
<rect x="1326.5" y="258.5" width="46.5" height="14" fill="#1aa68a"/>
<path d="M434 825.5l2.6-2.6l2.6 2.6M707 825.5l2.6-2.6l2.6 2.6" stroke="#7b8194" stroke-width="1" fill="none"/>
<path d="M159.5 812v24M451.5 812v24" stroke="#f1f2f6" stroke-width="1"/>
<path d="M1276.6 846.2a4.3 4.3 0 1 0 1.2 3.6" stroke="#8f94a6" stroke-width="1.1" fill="none"/><path d="M1275.4 845.2h2.6v2.6" stroke="#8f94a6" stroke-width="1" fill="none"/>
<path d="M1325.5 848.3l3.2-2.8l3.2 2.8M1325.5 852.3l3.2-2.8l3.2 2.8" stroke="#8f94a6" stroke-width="1.1" fill="none"/>
</g>
</svg>
<!-- toolbar buttons -->
<div class="ib" style="left:1264px"><svg width="16" height="16" viewBox="0 0 16 16"><path d="M3.7 6.9h1.4l1.6-2.9l2.5 5.2l1.4-2.4h1.4" stroke="#6b7083" stroke-width="1.3" fill="none" stroke-linejoin="round"/><path d="M3.9 11.5h8.1" stroke="#8a8fa2" stroke-width="1.4"/></svg></div>
<div class="ib" style="left:1284px"><svg width="16" height="16" viewBox="0 0 16 16"><path d="M4.1 11.3l.7-2.6l3.9-3.9l1.9 1.9l-3.9 3.9z" fill="#6b7083"/><path d="M9.5 4l.8-.8l1.9 1.9l-.8.8z" fill="#6b7083"/><path d="M3.9 11.7h8.1" stroke="#8a8fa2" stroke-width="1.2"/></svg></div>
<div class="ib" style="left:1303.5px"><svg width="16" height="16" viewBox="0 0 16 16"><rect x="4.1" y="3.9" width="3.3" height="4.9" rx="1.3" fill="#6b7083"/><path d="M5.75 3v7" stroke="#6b7083" stroke-width="1"/><rect x="8.6" y="6.3" width="3.3" height="5" rx="1.3" fill="#6b7083"/><path d="M10.25 5.5v7" stroke="#6b7083" stroke-width="1"/></svg></div>
<div class="ib" style="left:1330px"><svg width="16" height="16" viewBox="0 0 16 16"><path d="M4 12l3-3M12 4l-3 3" stroke="#6b7083" stroke-width="1.1"/><path d="M5.3 8.8h2v2M10.7 7.2h-2v-2" stroke="#6b7083" stroke-width="1.1" fill="none"/></svg></div>
<div class="ib" style="left:1350px"><svg width="16" height="16" viewBox="0 0 16 16"><path d="M4.3 4.3l7.4 7.4M11.7 4.3l-7.4 7.4" stroke="#6b7083" stroke-width="1.1"/></svg></div>

<!-- header row 1 -->
<span class="t" style="left:32px;top:6.4px;font-size:12px;color:#f76a47;font-weight:500">现货黄金</span>
<span class="t" style="left:84px;top:6px;font-size:11.5px;color:#6b7083">XAUUSD</span>
<span class="t grn" style="left:149.8px;top:6px;font-size:11.5px;font-weight:bold">1921.37</span>
<span class="t grn" style="left:200.3px;top:6px;font-size:11.5px;font-weight:bold;letter-spacing:0.7px">−4.09</span>
<span class="t grn" style="left:242px;top:6px;font-size:11.5px;font-weight:bold;letter-spacing:0.45px">−0.21%</span>
<span class="t r1" style="left:290px">最高</span>
<span class="t r1 n red" style="left:312px">1925.84</span>
<span class="t r1" style="left:351px">开盘</span>
<span class="t r1 n red" style="left:373px">1925.81</span>
<span class="t r1" style="left:412px">最低</span>
<span class="t r1 n grn" style="left:434px">1921.13</span>
<span class="t r1" style="left:473px">昨收</span>
<span class="t r1 n" style="left:495px">1925.46</span>

<!-- header row 2 -->
<span class="t r2" style="left:15px">分时</span>
<span class="t r2" style="left:43.5px">1分</span>
<span class="t r2" style="left:67px">2分</span>
<span class="t r2" style="left:91px">3分</span>
<span class="t r2" style="left:115px">4分</span>
<span class="t r2" style="left:139px">5分</span>
<span class="t r2" style="left:163.5px">10分</span>
<span class="t r2" style="left:193px">15分</span>
<span class="t r2" style="left:222px">20分</span>
<span class="t r2" style="left:252px">30分</span>
<span class="t r2" style="left:282px">1时</span>
<span class="t r2" style="left:305.5px">2时</span>
<span class="t r2" style="left:329px">3时</span>
<span class="t r2" style="left:353px;color:#f6673f">4时</span>
<span class="t r2" style="left:377px">6时</span>
<span class="t r2" style="left:401px">8时</span>
<span class="t r2" style="left:425.5px">12时</span>
<span class="t r2" style="left:455.5px">日K</span>
<span class="t r2" style="left:479.5px">周K</span>
<span class="t r2" style="left:504px">月K</span>
<span class="t r2" style="left:528.5px">季K</span>
<span class="t r2" style="left:554px">年K</span>
<span class="t r2" style="left:579px">更多</span>

<!-- legends -->
<span class="t lg" style="left:47px;top:49px;color:#f59a4e">MA5:1924.13</span>
<span class="t lg" style="left:110px;top:49px;color:#35bcd8">MA10:1924.74</span>
<span class="t lg" style="left:178px;top:49px;color:#a084ee">MA20:1926.33</span>
<span class="t lg" style="left:47px;top:64.5px;color:#3f424c">BOLL</span>
<span class="t lg" style="left:76.5px;top:64.5px;color:#d873cd">UP:1936.95</span>
<span class="t lg" style="left:132.5px;top:64.5px;color:#7284f4">MID:1926.33</span>
<span class="t lg" style="left:193.5px;top:64.5px;color:#b07c58">LOW:1915.70</span>
<span class="t lg" style="left:47px;top:513.2px;color:#3f424c">MACD(12,26,9)</span>
<span class="t lg" style="left:118px;top:513.2px;color:#f59a4e">DIF:-0.76481</span>
<span class="t lg" style="left:180px;top:513.2px;color:#35bcd8">DEA:-0.22431</span>
<span class="t lg" style="left:245px;top:513.2px;color:#a084ee">MACD:-1.08100</span>

<!-- annotations -->
<span class="ann" style="left:286px;top:67.1px;letter-spacing:0.8px">黄金<span style="display:inline-block;transform:scaleX(1.12);margin:0 3.1px 0 3.3px;letter-spacing:0">4</span>小时</span>
<span class="ann" style="left:639.8px;top:316.3px;letter-spacing:1.1px">右肩底</span>
<span class="ann" style="left:995.3px;top:311.5px;letter-spacing:1.1px">右肩底</span>
<span class="t hl" style="left:574.3px;top:88.1px">1953.01</span>
<span class="t hl" style="left:284.3px;top:460.8px;transform:scaleX(.985)">1884.85</span>

<!-- axis labels -->
<span class="t ax red" style="top:45.9px">1961.53</span>
<span class="t ax red" style="top:156.5px">1940.23</span>
<span class="t ax" style="top:258.5px;color:#fff;right:15px">1921.37</span>
<span class="t ax grn" style="top:273.5px">1918.93</span>
<span class="t ax grn" style="top:389.5px">1897.63</span>
<span class="t ax grn" style="top:496.5px">1876.33</span>
<span class="t ax m" style="top:532.6px">8.35961</span>
<span class="t ax m" style="top:658.4px">1.01778</span>
<span class="t ax m" style="top:784.2px">−6.32405</span>

<!-- time axis -->
<span class="t tm" style="left:99.5px">08-15 00:00</span>
<span class="t tm" style="left:259.5px">08-22 04:00</span>
<span class="t tm" style="left:419.5px">08-29 08:00</span>
<span class="t tm" style="left:579.5px">09-05 12:00</span>
<span class="t tm" style="left:739.5px">09-12 16:00</span>
<span class="t tm" style="left:899.5px">09-19 20:00</span>

<!-- bottom toolbar -->
<span class="gb" style="left:12px;width:54px">多空挂单</span>
<span class="gb" style="left:74.5px;width:33.5px">VPC</span>
<span class="gb" style="left:116.5px;width:33.5px">PPS</span>
<span class="t bt" style="left:167.5px">MA</span>
<span class="t bt" style="left:190.5px">BOLL</span>
<span class="t bt" style="left:224px">MMV</span>
<span class="t bt" style="left:254.5px">SAR</span>
<span class="t bt" style="left:281.5px">PBX</span>
<span class="t bt" style="left:309px">BBI</span>
<span class="t bt" style="left:333.5px">EXPMA</span>
<span class="t bt" style="left:374px">SMMA</span>
<span class="t bt cj" style="left:410.5px">更多</span>
<span class="t bt cj" style="left:460px">成交量</span>
<span class="t bt" style="left:498.5px">MACD</span>
<span class="t bt" style="left:534px">KDJ</span>
<span class="t bt" style="left:560px">CCI</span>
<span class="t bt" style="left:584.5px">RSI</span>
<span class="t bt" style="left:608.5px">RS</span>
<span class="t bt" style="left:629px">OBV</span>
<span class="t bt" style="left:656.5px">ABV</span>
<span class="t bt cj" style="left:683.5px">更多</span>

<!-- footer -->
<span class="t" style="left:14px;top:841px;font-size:10.5px;color:#f6633f">资讯</span>
<span class="t" style="left:1285px;top:842px;font-size:10.9px;color:#8f94a6">刷新</span>
<span class="t" style="left:1340.7px;top:842px;font-size:10.9px;color:#8f94a6">展开</span>
</div>
</body>
</html>
